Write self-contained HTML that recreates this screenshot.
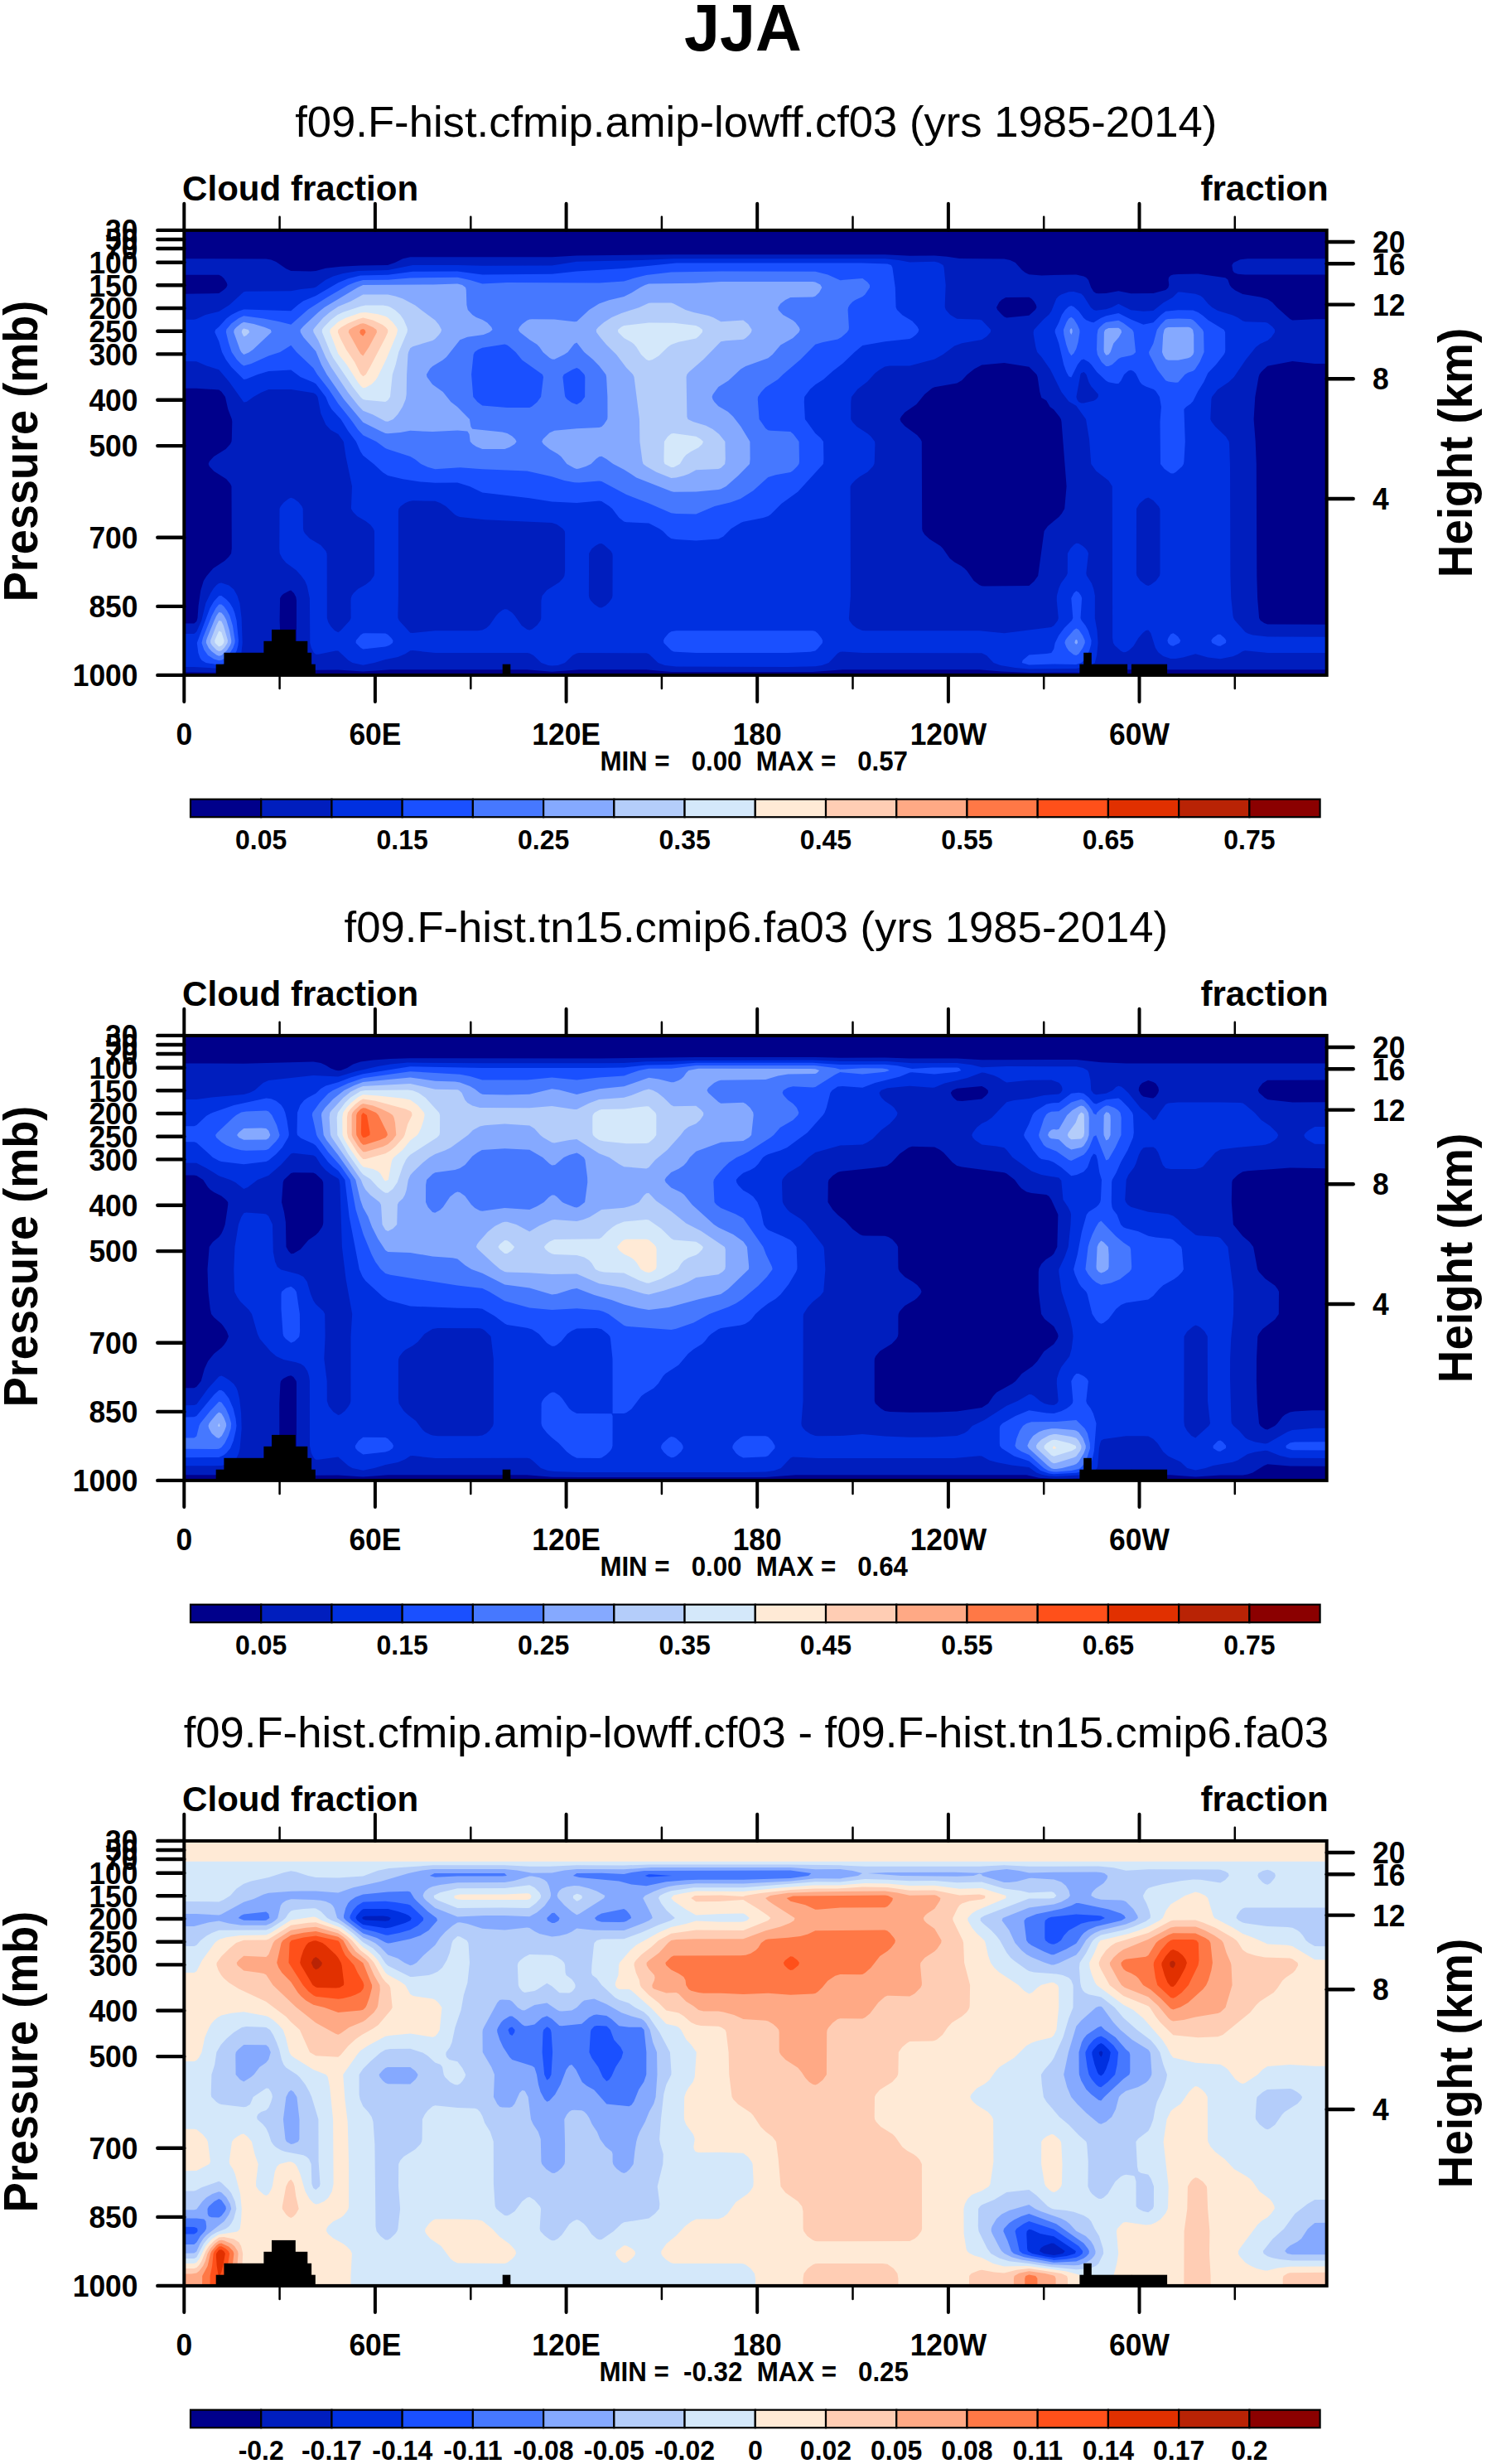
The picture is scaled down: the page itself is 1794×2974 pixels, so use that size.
<!DOCTYPE html>
<html lang="en"><head><meta charset="utf-8"><title>JJA Cloud fraction</title>
<style>html,body{margin:0;padding:0;background:#fff}svg{display:block}text{font-family:"Liberation Sans",Arial,Helvetica,sans-serif;fill:#000}</style></head><body>
<svg width="1794" height="2974" viewBox="0 0 1794 2974">
<rect width="1794" height="2974" fill="#fff"/>
<text transform="translate(896.8,61.0) scale(0.966,1)" font-size="80" font-weight="bold" text-anchor="middle" >JJA</text>
<g transform="translate(0,0.0)">
<text transform="translate(912.8,165.3) scale(1.016,1)" font-size="51.8" font-weight="normal" text-anchor="middle" >f09.F-hist.cfmip.amip-lowff.cf03 (yrs 1985-2014)</text>
<text transform="translate(220.1,242.0) scale(0.983,1)" font-size="42.8" font-weight="bold" text-anchor="start" >Cloud fraction</text>
<text transform="translate(1603.7,242.0) scale(0.983,1)" font-size="42.8" font-weight="bold" text-anchor="end" >fraction</text>
<rect x="222.3" y="277.9" width="1379.4" height="537.0" fill="#00008b"/>
<clipPath id="cp0"><rect x="222.3" y="277.9" width="1379.4" height="537.0"/></clipPath><g clip-path="url(#cp0)" shape-rendering="geometricPrecision"><path fill="#001ebe" fill-rule="evenodd" d="M813.3 307.3l255 0 30 1.4 30-0.2 15 1.3 15 2.3 54 0.3 7.2 1.5 6.3 3 8.1 9 3.8 3 4.6 2.4 15 1.1 42-1 9 2.2 3 1.5 2.7 2.8 3.2 9 3.1 5 3 2.1 3 0.3 9-0.2 15-2.9 15 3 27-0.1 15-4.1 3-2.7 1-3.4-0.7-6 0.4-3 2.3-2.5 3-1 6-0.5 24-0.3 33 4.6 3 2.2 2.3 6.5 2.2 3 4.5 3.5 9 4.7 21 3.5 9 2.3 5.8 4 5.5 6 15.7 14 3 1.5 27-1.1 24 0 0 53.7-24-0.1-27-2.9-30 5.7-7.7 7.2-2.1 3-1 3-4.2 24-1.7 27 2.1 27 1.1 27 0.5 135 0.8 27 2 24 1.7 3 4.4 3 4.1 1.6 81 0.2 0 54.6-279 0-15 2.2-15 1.2-57 0.3-36-1.4-27-2.3-165 0-36 2.7-138 0.1-33-0.2-30-2.6-81 0-33 2.4-30-2.4-165 0-33 2.1-30-2-27 0.4-30-1-54 0.5-15 2.3-15 1.2-57-0.7 0-58.4 24-0.2 3-2.5 1.2-4.1 1.1-15 2.6-18 3.6-12 3.5-5.3 8.1-9.7 13.7-9 5.2-5 2.8-4 0.7-6-0.3-75-1.4-3-4.8-5.6-15-9.5-5.4-5.9-1.3-3 1.2-3 5.4-6 14.4-9 5.4-6 1.5-3 0.3-3 0.5-21-0.4-3-4.6-12-3.4-15-4.6-6.2-3-2.3-27-1.7-27-0.1 0-113.6 54-1 6-4.2 2.9-2.9 1.3-3-0.9-3-3.3-4.9-3-2.8-3-1.4-54-0.2 0-19.3 111 0.1 6 1.1 6 2.4 12 8.4 6 2.8 24 0.3 6-0.5 12-3.1 18-2.1 24-1.3 32.7-0.5 8.8-3 9.5-4.6 9-2 171-0.1 30-1.6ZM1214.3 358.9l-5 2.8-3 3.1-3.3 6.1 1.2 3 5.1 5.6 3 2.7 3 1.3 27-2.8 7.5-6.8 1.7-3-0.7-3-2.5-4.1-3-3.2-3-1.8ZM1185.3 440.4l-9 4.9-8.5 6.6-6.5 7-6 3.7-27 4.6-3 1.3-9.1 7.4-9.8 12-14.1 9.9-4.4 5.1-1.4 3 1.2 3 4.6 5.4 15 10.9 4 4.7 1.5 3 0.4 105 0.5 3 2.6 4.3 6 5.6 13.1 8.1 2.9 3 8.4 12 5.6 4.6 8.1 4.4 3.9 3 3 3.1 8.4 11.9 6.6 5.1 3 1.3 3 0.2 54-0.6 6-5.1 4.9-6.9 7.4-54 4.4-6 13.3-10.9 3.4-4.1 3.5-6 2.4-27-6.1-78-0.6-3-1.8-3-6.8-8.4-4.7-3.6-4.3-7.5-6-3.5-2-7-2.7-18-1.1-3-9.2-9.1-30-4.7ZM349.4 712.9l-7.1 3.9-2.4 2.1-1.8 3-0.5 27 0.9 21 1.3 6 5.5 6.4 3 2.3 3 1 3.5-3.7 2.5-5.5 0.6-3.5 0.1-48-0.7-4.5-2.4-4.5-3.6-3.4ZM1497.3 313.3l9-1 105 0 0 19.3-108 0-9-0.8-4.4-1.9-1.6-2.3-1-6.7 2-3Z"/>
<path fill="#0030e0" fill-rule="evenodd" d="M774.3 313.9l39-1.7 255 0 16.7 1.7 13.3 2.5 30-0.6 5 1.1 5.3 3 1 3 2.1 21-1 24 0.1 3 1.1 3 5.3 6 8.1 4.8 27 1 3 0.8 10.9 11.4-0.4 3-4.5 5-6 4.1-24 4.3-9 3.2-14 10.4-10 5.7-30 7.8-24 0.2-6 1-6 3.3-6 4.6-9 9.9-12 9.4-7.3 9.1-0.7 6-0.1 21 2.1 3.5 5.3 5.5 12.7 8.3 4.3 3.7 4.5 6 0.3 3-0.6 21-0.4 3-1.6 3-6.5 6.8-9 5.4-6 4.6-3.9 4.2-1.8 3 0.3 132-2 27 0.5 3 3.9 5.3 4.8 3.7 6.8 3 3.4 0.3 138 0 30 3.1 57-7.4 3-2 2.4-3 2.2-3 0.9-3-2-21 0.1-6 2.4-9 2.6-6 6.6-9 1.3-3 0.1-24 3.5-6 3.9-4.2 3-2 3 0.3 4.9 2.9 3.3 3 2.3 3 1.2 3-2.7 24 0.8 3 5.8 9 2.4 7.1 1.6 7.9-0.1 27 2.7 15 1.1 15-1.5 15-2.3 9-4.1 3-3.4 1.2-15 3-57 0.4-16.6-1.6-18-3-8.1-3-8.3-8.6-6-3-144-0.3-24-1.4-3 0.1-3 1.7-10.8 11.5-8.1 3-8.1 1.4-33 0.7-135-0.4-13.7-1.7-8.1-3-11.2-10.6-3-1-81-0.2-3 0.3-4.9 2.5-9.4 9-8.3 3-7.4 0.7-4.6-0.7-8.2-3-9.5-9-4.7-2.5-3-0.3-111-0.1-27-2.9-3 0.2-6 4-9 3.6-15 3-13.5 4-13.5 2.9-12.8-2.9-5.2-3.2-12-11.2-3 0-21 4.2-3 0.1-2.3-1.9-3.1-6-1.6-6-0.4-54-3.2-15-2.6-6-4.8-6.3-6-6.5-12-8.9-4.4-5.3-3.2-6-0.4-6 0.2-48 1.4-3 3.4-4.2 6-4.8 3-1.2 3.6 1.2 5.4 4 4.1 5 1.3 3 0.3 24 0.5 3 1.7 3 5.7 6 13.4 8.2 6 6.8 1.2 3 0.2 3 0.1 75 1.5 5.1 3 4.9 4.7 5 4.3 2.4 3-2.2 11-12.2 1.3-3-0.1-21 0.2-3 1-3 2.1-3 5.5-5.2 9-5 6-4.8 4.2-6 0.6-3-0.1-51-1.3-3-3.4-4.4-5.8-4.6-10.3-6-4.9-5-2.4-4 1.1-27-7.5-36-2.7-18-6.5-8.9-9-5.1-6-6.5-6-13.4-3.8-20.1-2.2-2.9-3-1.7-27-4.2-27 0-9 3.6-9.3 5.2-8.3 6-3.4 0.7-17.5-24.7-12.5-14.7-15-4.8-12-5.1-27-0.5 0-50 24-0.1 3-0.7 10.8-5.1 16.2-3.8 12.7-8.2 17.3-15.7 3-0.5 54-0.4 12-2.4 15-1.5 3-0.9 12-8.8 9-4.2 12-3.5 18-3.1 36-0.9 30-6 54-0.1 30 0.9 84-0.2 30-4.8ZM494.1 604.9l-4.8 2.2-5.5 3.8-2.4 3-0.5 3 0 102-0.5 24 0.1 3 1.4 3 13.4 14.8 3 0.4 27-2.9 51 0 6-0.6 4.9-2.7 4.1-3.6 7.8-11.4 2.8-3 4.4-3.4 3-1.3 3 0.4 6 4 3.1 3.3 8.4 12 6.5 4.8 3 0.9 3-1.2 6-4.6 4.2-5.9 0.8-3 0.1-21 1.2-6 5.7-6.7 15-9.5 4.4-4.8 1.7-3 0.7-6 0-45-0.4-3-2.4-3-7-4.8-6-2.2-81-3.7-30-3.3-3-0.8-3-1.8-11.1-10.4-6.9-3.8-6-2.3-27-0.5ZM718.4 658.9l-4.1 3.7-3.2 5.3-0.2 51 0.7 3 1.7 3 4 4.4 6 3.9 3 0.3 4.8-2.6 4.2-3.8 3.5-5.2 0.7-3 0.1-48-0.4-3-1.8-3-8.1-7.1-3-1.7-3 0.1ZM1290.3 352.2l6-0.1 9 2.5 3 3 8.5 13.3 3.5 3.2 3 0.7 12-1.5 6.9-2.4 8.1-4.1 15 7.5 15 1.4 12-0.8 12-9.5 11.4-6.5 6.6-6.3 3-0.2 18 2.4 6 2.3 3 2.1 6 7.4 5 4.3 7 4.1 18 5.4 6 2.8 6 4.1 3 1 24 0.8 3 0.6 6 4.9 2.8 3.3-0.1 3-4.1 6-4.6 4.2-9 3.9-5.2 3.9-12 15-14.3 21-6.2 6-13.3 9.2-7.2 8.8-0.7 3-1.1 24 1.4 3 4.5 6 12.8 12 3.7 6 0.4 3 0.9 27 0.4 132 0.9 27 2.2 21 0.7 3 1.8 3 12.3 13.9 3 1.8 6 1.9 18 2.1 81 0.1 0 19.4-81-0.1-27-2.8-3 0.7-6 3.8-6 2.5-15 3.1-15-1.9-15-4.2-15 4.3-9 1.5-6 0.1-9-3.1-6-4.7-3.4-5.4-5.6-17.7-3-3.8-3 0.7-3.7 2.8-5.2 6-6.1 10-5.4 5-3.6 2-3 0.3-3-1.4-7.5-6.9-1.8-3-0.9-6-0.3-183-4.5-6.9-15-11.6-6-8.5-2.3-30-4-24-11.7-16.1-9-5.4-8.9-11.5-13.4-27-10.7-15.1-5.1-5.9-1.8-6-2.6-15-0.2-3 0.7-3 12-12.9 6-5.3 3-4.2 6-15 3-3.2 3-1.9ZM1305.3 450.3l-0.9 1.6-5 27 0.8 3 2 3 3.1 1.7 3-0.1 12-2.7 3-1.8 2.5-3.1 0.1-3-8.6-9.7-2.9-5.3-2.9-9-2.9-3ZM1382.4 601.9l-6.9 6-3.5 6-0.1 78 0.6 3 4.2 6 6.6 5.1 3 1 3-1.2 6.3-4.9 4.3-6 0.6-3 0-75-0.2-3-1.6-3-6.4-6.9-6-3.6ZM267.3 703.5l9 3.1 6 4.9 4.2 7.4 2.9 9 2.2 18 1.1 30-1.6 15-1.4 6-1.4 2.8-6 3.8-15 3.5-33-2-24 0 0-39.8 24-0.3 3-2.3 6-13.7 5.1-21 5.8-12 3.8-6 3.3-3.6 3-2.3Z"/>
<path fill="#1a50ff" fill-rule="evenodd" d="M816.3 317.4l225 0.1 30 0.9 4.6 1.5 1.5 3 3.4 24 0.8 24 1.4 3 6.3 6.4 12 7.1 6 6.5 2.1 4-1 3-2.6 3-4.5 3.6-3 1.5-30 3.3-27 4.7-9.6 7.9-14.4 13.8-12 9.2-11.2 10-9.8 6.3-6 5.2-7.1 9.5-0.4 6 1.1 21 12.4 17 6 5.4 3.7 4.6 0.4 21-0.5 6-30.6 33.5-20 14.5-13 13-3 2-6 2.2-24 4.7-3 1.2-11.5 6.9-9.5 9.5-6 3.1-27 2-24-1.4-6-1.2-4.3-3-5.8-6-4.4-3-12.5-6.3-27-1.4-3-0.8-6-4.7-8.1-10.8-3.6-3-9.3-5.8-3-0.5-27 2.4-30-1.6-27-4.1-57-6.9-15.4-7.5-14.6-4.4-27 0.2-18-1.2-21-3.2-18-4.3-6-3.7-11.2-10.4-12.8-10.1-3.1-4.9-5.3-12-9.6-12.7-8.8-14.3-11.1-12-3.5-6-3.7-9-11.9-15.6-3-1.9-15.6-6.5-11.4-8.4-27 1.6-13.2 3.8-13.8 5.5-3 0.5-15-15-6.6-9-4.7-9-3.7-13-5-11 0.8-3 4.2-3.4 9-10.1 6-4.5 9-4.4 6-1.9 3-0.1 54 1.8 9-7.9 6-4.1 15-6.3 27-15.8 12-4.9 15-3.7 33-0.8 30-4.1 54-0.3 30 4.1 84-0.7 30-3.3 57-3.5ZM1290.3 370l3-1.1 3 1.4 6 5.3 6 8.2 3 2.4 6 2.6 3 0.4 9-5.5 6-2.4 15-3.4 15 7.5 15 6.3 12-2.5 9.4-9.3 5.6-4.2 15-1.4 18 0.3 6.2 2.3 5.8 4.1 6 5.3 19.3 11.6 1.5 3 0.2 21-0.3 3-1.5 3-9.4 12-9.8 10.4-5 10.6-7 11.4-6 12-3 3.3-5.2 3.3-2.7 3 1.4 39-1.4 24-0.5 3-1.8 3-7.8 7-3 1.5-3-0.2-7.5-5.3-4.8-6-0.5-51 1.4-18-2-12-4.6-6.8-2.4-2.2-9.6-3.5-4.5-2.5-2.6-3-4.9-9.8-3-3-3-1.4-3 0.8-5.2 4.4-3.8 7.7-3 3.4-3 0.1-9-1.9-3-1.7-11.1-10.6-6.7-9-3-3-6.2-3.5-3 1.2-4.3 5.3-7.7 15.6-3-1.2-3-5.6-3-8.3-6-25.9-4.7-13.6 0.2-3 4.5-8.6 3.6-9.4 4.1-6ZM1299.3 713.3l3 1.6 2.8 4 1 3-1.6 24 1.3 3 4.7 6 3.3 6 3.8 12-0.3 4.8-2.1 7.2-2.7 6-3.8 6-3.3 3-6.1 2.1-27-0.4-30 1-8.5-2.7 0.8-3 7.7-6.3 21-1.6 6-1.1 3-4.7 1.4-7.3 4.5-9 6.7-9 9-9 1.4-3-2-24 3-5.9ZM264.3 719.3l3-0.2 6 4.4 4.2 4.4 3.6 6 2.3 6 2.2 9 2.4 24-0.6 6-1.5 6-4.5 9-2.9 3-4.5 3-6.7 2.3-3 0.4-15.7-2.7-5-3-2.1-3-2.1-6-1.6-12 15.7-42 4.8-8.1ZM810.3 762.2l6-1 165 0.1 3 0.7 3 2.4 4.3 5.5 1.5 3-0.2 3-5.6 6.9-3 2.7-6 1.2-27 1.3-111 0-24-1.2-3-0.3-3-1.4-8.9-9.2-0.4-3 1.4-3 4.9-5.6ZM435.3 766.6l3-2.1 3-0.3 24 0.3 3 1.6 4 3.8 2.2 3-0.5 3-4.2 3-4.5 1.7-27 2.8-3-1.7-5.7-5.8 0.2-3ZM1413.3 765.5l3-1.2 3 1.6 3 2.7 2.9 4.3-1.2 3-7.7 3.8-3-0.7-3-2.8-0.9-3.3 1-3ZM1470.3 765.8l3 0 4.9 4.1 2.2 3-0.5 3-6.6 3.9-3-0.2-6-3.1-1-0.6-1-3 2.1-3Z"/>
<path fill="#4678ff" fill-rule="evenodd" d="M810.3 328.6l60-1 114 0.2 15 3.7 15 6.7 27-2.1 6 4.3 2.7 3.5 0 3-5.7 8.6-3 2.6-8.6 3.8-3.4 2.3-3.5 3.7-1.7 3-0.5 3 1.3 21-0.3 3-2 3-6.8 6-4.5 2.6-17.7 3.4-9.3 2.9-18 18.2-21.1 17.9-6.1 6-14.8 9.7-5.2 5.3-4 6-0.3 3 1.8 24 7.7 11 3 2.3 3 0.5 24 1.3 3.5 2.9 6.8 9 0.4 24-0.5 3-2.2 3-5 5-3 2-18 3.3-9 2.9-18 16.2-15.3 9.6-11.7 4.3-19.6 4.7-22.4 9.5-24-0.3-6-0.8-27-11.9-27-10.3-30-16.1-3-0.4-24 2-6-0.3-12-2.2-15-4.8-30-6.8-54-2.2-27-2-30 1.9-9-2.5-8.1-3.8-6.9-5.4-6-3.6-27-8.6-3-1.4-11-8-16-7.6-6-6.6-9.1-12.8-14.9-18.6-11.3-17.4-14-18-4.7-7.6-20.3-19.4-6.7-8.2-13.2 8.2-13.8 4.7-21 9.5-9 2.5-3-2-5.4-5.7-6.2-9-3.9-12-2.9-12 0.4-3.1 6-7.2 9-6.6 6-2.7 24 3.1 18 3.5 15 3.8 21-18.5 22.4-14.3 25.8-15 8.8-3.5 9-2.4 30-0.3 27-2.2 57-0.7 15 3.1 15 4.5 30-1.4 111 0.4 30-1.8 15-4.7 12-2.8ZM582.3 419.7l-5.2 2.2-4.1 3-1.4 3-2.5 24 2.2 27 5 6 6 4.5 30 2.7 27-0.1 3-1.6 6-4.9 4.8-6.6 2.9-24-1.1-3-24.6-17.3-7.8-9.7-7.2-6.1-3-2.2-3-1.1ZM691.3 445.9l-10.6 6-1.3 3 2.4 21 0.6 3 2.3 3 5.6 4.1 6 2.3 5.3-3.4 4.5-6 0.2-24-0.8-3-6.2-6.3-3-1.7ZM1293.3 382.7l3 2.4 4.4 6.8 2.6 6 0.2 3-1.9 12-2.3 8.2-3 5.4-3 2.8-3-4.5-3-8.9-2.9-12-0.5-6 3.6-9 2.8-4.3ZM1407.3 385.8l3-0.8 12-0.5 15 0.5 3 1.2 3.2 2.7 8.4 9 1.2 3 0.5 24-5.2 12-5.8 9-2.3 1.8-6 2-3.7 2.2-8.3 9.6-3 0.3-6-0.7-3-0.5-3-1.4-10.2-13.3-9.5-18-0.6-3 5.3-10.1 4.5-16.9 4.5-6.2ZM1350.3 386.7l6 3.3 10.7 7.9 1.6 3 2.5 24-2.8 2.9-3 1.3-12 2.4-3 1.5-7.5 6.9-4.5 2.1-3 0-5.4-5.1-5-9-0.9-6 0.5-18 1-6 2.2-3 4.6-4.2 3-1.8ZM264.3 729.6l3 0 3 2.5 3.7 4.8 3.3 6 3.6 12 2.8 18-0.2 3-2.1 6-5.1 8.2-6 5.1-3 1.6-3 0.5-6-1.8-7.2-4.6-4.8-6.6-2.8-8.4 1.4-6 10.9-27 4.8-9ZM1296.3 760.6l3-2 3 1.5 4.7 6.8 2.7 6 0.1 3-2.6 6-4.9 7.3-3 1.9-3-0.8-6-4.9-3-4.4-1.9-5.1 0.7-3 2-3Z"/>
<path fill="#85a9ff" fill-rule="evenodd" d="M870.3 340.1l111 0 3 0.3 6 3 2 3.5-3.3 6-4.7 4.7-3 0.8-27 0.5-6.1 3-5.9 4.7-3 4.3 0.4 3 5.6 6.1 12 6.8 3 2.4 4.4 5.7 1.1 3-1.3 3-7.2 7.2-15 8.4-9.8 11.4-5.2 4.4-27 9.6-6 3.5-15 14-12 7.5-6.6 9-1.1 3 0.9 3 1.9 3 4.9 5.3 11.6 6.7 6.3 6 9.1 11.9 11.1 18.1 0.2 21-0.6 6-13.7 14.2-14.7 12.8-6.3 3.4-3 0.7-27 2.4-27 0.3-3-0.6-42-16.7-15-9.7-13-6.8-8.2-6-5.8-3.2-3 0.5-3.8 2.7-6 6-6.3 3-7.9 2.6-3 0.5-3-1-8.9-5.1-7.1-9-3.8-3-10.2-5.8-7.3-6.2-1.8-3 1.4-3 7.7-7.3 6-2.8 27-2.5 27-1.2 3-1.2 3-2.8 3.9-6.2 0.3-3-0.1-24-1.3-24-0.7-3-8.1-10.4-7.3-7.6-10.7-9-9-11.4-3 1.4-7.8 10-4.5 3-11.7 5.9-3-0.2-3-1.8-7.8-6.9-4.1-6-3.1-3.2-9-5.6-11.6-9.2-1.9-3 1.3-3 3.2-3.6 6-4.5 3-1.3 3-0.2 27 0.2 24 2.7 3-0.2 15-13.9 12-7.7 12-4.1 18-4.2 9-4.5 10.5-6.7 6-3 4.5-1.3 57-0.8ZM522.3 343.4l30-1 5.8 1.5 4 3 0.7 3 0.6 18 1.4 6 5.5 6.2 4.6 2.8 7.6 3 5.8 3.7 5.1 5.3 1.1 3-3.5 3-7.3 3-19.4 2.9-9 3.5-16.4 20.6-4.6 3.9-12 7.1-3 2.9-4.4 7.1 0.6 3 6.6 9 12.6 9 9.6 12 8 6.3 14.6 14.7 1.5 9 1.9 2.9 36 3.7 6 1.4 6 3.7 3.7 3.3 1.6 3-2.3 3-6 3.9-6 2.3-27 0-7.4-3.2-4.4-3-2.8-3-1.1-9-2.3-3.3-12-1-30 1.5-27-1.3-12 2.3-15 1.2-3-0.4-6-2.6-21-10.5-23.1-27.9-20.7-30-6.6-12-6.6-16-15-16.9-3.6-6.1-0.1-3 3.7-4.2 17.9-16.8 7.4-6 40.2-24 6.5-2.9ZM294.3 388.8l12 2.2 13.3 3.9 7.3 3 0.8 3-22.3 21-5.1 3.7-6 2.3-3-2.9-1.6-3.1-7.5-21 0.5-3 2.6-3 6-4.7ZM1410.3 394.9l24-0.1 3 0.8 2.8 2.3 1.1 6 0.1 21-1 3-3 3.1-3 1.3-12 2.4-12 0-3-1.2-3-4.8-1.3-3.8 1.2-21 1.4-6 1.7-2ZM1293.3 396.1l1.3 1.8 0 3-1.3 3.2-1.6-3.2 0-3ZM1338.3 395.9l12-0.2 3.1 2.2 0.7 3-3.3 6-6.5 7.6-3.7 10.4-2.3 3.1-3 0.8-2.4-3.9-0.3-3 0.3-21 1.3-3ZM264.3 739.1l3 0.3 3 3.5 3 5.7 3.7 12.3 2.3 12-0.2 3-1.3 3-3.8 6-6.5 6-3.2 0.8-3-1.2-6-4.5-3.4-4.1-3-6 0.1-3 1-3 8.6-21 2.7-5.6ZM1299.3 771.7l1.4 1.2 0.4 3-1.8 1.8-1.9-1.8 0.6-3Z"/>
<path fill="#b4cdfa" fill-rule="evenodd" d="M438.3 355.5l30 0.1 9 2 9 3 15 8 24 18 4.6 5.3 3.2 6-0.9 3-2.2 3-4.7 5.1-3 1.9-24 7.4-3 1.9-2.2 4.7-0.6 3-1.4 24-0.4 24-1 6-3.7 9-5.7 9.2-5.6 5.8-6.4 2.8-3-0.1-15-8.1-12-4.8-6-6.4-12-15.4-21-31.3-6-11-9-20.5-5.8-10.2-0.4-3 2.2-3 10-11.4 7.7-6.6 10.3-6.8 15-6.4ZM783.3 365.7l3-0.3 24 0.2 3 0.8 14.3 7.5 9.7 3.2 18 3.8 6 2.3 9 5 27-1.8 6 4.8 4.4 6.7-0.8 3-2.3 3-4.3 4-3 1.8-21 1.6-6 1-21 21.4-17.5 15.2-2.5 3-0.7 3 0.8 48 1.1 3 6.3 3 15.5 4.9 8.2 4.1 7.6 6 7.3 9 0.4 21-0.6 6-4.9 4.8-3 1.4-27 1.1-8.7 4.7-6.3 2.3-9 2.4-6 0.4-18-7.2-11.8-6.9-3.9-3-1-3-3.2-24-0.4-27-6.5-51-1.4-3-7.8-7.9-12.1-16.1-11.9-11.7-7.8-9.3-4.4-6-0.3-3 2.4-3 7-6 9.4-6 11.7-5 21-6.7ZM294.3 396.6l5.6 1.3 1.3 3-3.9 4.2-3 1.1-2.6-5.3 0.7-3ZM264.3 749.1l3 0.6 2.5 5.2 5.2 18-0.4 3-3.8 6-3.5 3.4-3 0.8-3-1.7-5.3-5.5-1.8-3-0.1-3 7.2-18.1Z"/>
<path fill="#d4e8fa" fill-rule="evenodd" d="M435.3 369.7l6-1.1 21 0 6 0.9 3 1.3 6 3.6 6 5.5 4.1 6 3.9 9 0.7 3-0.5 3-10.2 24-3.6 15-3.9 12-2.8 27-2.7 4.2-3 1.9-24-2.3-3-0.7-3-2.7-9.4-12.4-23.6-35-3.6-7-9.8-24-0.1-3 2-3 8.5-8.7 8.1-6.3 6.9-3.2ZM783.3 389.5l30 0.3 27 3.2 4 1.9 3.8 3-0.2 3-4.6 5.2-3 2.3-21 4.4-9 3.1-4.2 3-10.8 10.7-7.5 4.3-4.5 1.4-3-1.4-6.2-6-5.7-9-3.1-3.6-3-2.4-9-5-7-7-0.3-3 4.3-3.4 3-1.5ZM810.3 523.4l3-0.5 27 3.8 5.6 3.2 3.1 3-1.2 3-4.5 4.3-9.1 4.7-5.9 4.2-3 3.5-4.5 7.3-7.5 4-3 0.2-7.8-4.2-1-3 0-6 0.4-18 4.2-6ZM264.3 761.5l3 1.5 3.3 9.9-0.4 3-2.2 3-3.7 1.6-4.7-4.6-0.4-3Z"/>
<path fill="#ffead6" fill-rule="evenodd" d="M435.3 377.5l6-0.4 15 2.1 9 2.5 3 1.8 5.8 5.4 4.6 6 1.4 3-1.4 6-12.6 30-10.2 21-2.6 4.1-5 4.9-7 3.9-3 0.4-3-2.6-3-3.9-13.8-21.8-10.2-12.8-10-26.2 0.2-3 0.8-1.1 9-8.4 9-4.6Z"/>
<path fill="#ffcdb4" fill-rule="evenodd" d="M432.3 385.2l6-1.6 12 2.9 11.5 5.4 3.9 3 2.5 3 0 3-2.9 6.7-18 34.4-5.6 9.9-3.4 2.3-3-3-7.2-14.3-10.1-15-6.7-12.6-3.4-8.4 0.4-3 3.6-3 8.4-4.6Z"/>
<path fill="#ffa985" fill-rule="evenodd" d="M435.3 390.8l3-0.6 3 0.7 9 4 4.2 3 0.5 3-9.7 18-7 10.6-3-2.6-3-4.8-11.6-21.2 0.8-3 4.7-3Z"/>
<path fill="#ff7846" fill-rule="evenodd" d="M435.3 397.9l3-0.8 2 0.8 1 2.2 0 1.4-3 4.2-3-2.5-1.1-2.3Z"/><rect x="260.7" y="801.7" width="120.1" height="13.2" fill="#000"/><rect x="270.4" y="787.8" width="105.7" height="27.1" fill="#000"/><rect x="318.4" y="773.8" width="52.9" height="41.1" fill="#000"/><rect x="328.0" y="759.9" width="28.8" height="55.0" fill="#000"/><rect x="606.7" y="801.7" width="9.6" height="13.2" fill="#000"/><rect x="1303.4" y="801.7" width="57.7" height="13.2" fill="#000"/><rect x="1365.9" y="801.7" width="43.2" height="13.2" fill="#000"/><rect x="1308.2" y="787.8" width="9.6" height="27.1" fill="#000"/></g>
<rect x="222.3" y="277.9" width="1379.4" height="537.0" fill="none" stroke="#000" stroke-width="4"/>
<g stroke="#000" stroke-linecap="round" fill="none"><path d="M222.3 277.9v-32.2M222.3 814.9v32.2" stroke-width="4.0"/><path d="M337.6 277.9v-16.1M337.6 814.9v16.1" stroke-width="2.5"/><path d="M452.9 277.9v-32.2M452.9 814.9v32.2" stroke-width="4.0"/><path d="M568.3 277.9v-16.1M568.3 814.9v16.1" stroke-width="2.5"/><path d="M683.6 277.9v-32.2M683.6 814.9v32.2" stroke-width="4.0"/><path d="M798.9 277.9v-16.1M798.9 814.9v16.1" stroke-width="2.5"/><path d="M914.2 277.9v-32.2M914.2 814.9v32.2" stroke-width="4.0"/><path d="M1029.5 277.9v-16.1M1029.5 814.9v16.1" stroke-width="2.5"/><path d="M1144.9 277.9v-32.2M1144.9 814.9v32.2" stroke-width="4.0"/><path d="M1260.2 277.9v-16.1M1260.2 814.9v16.1" stroke-width="2.5"/><path d="M1375.5 277.9v-32.2M1375.5 814.9v32.2" stroke-width="4.0"/><path d="M1490.8 277.9v-16.1M1490.8 814.9v16.1" stroke-width="2.5"/><path d="M222.3 277.9h-32" stroke-width="4.4"/><path d="M222.3 289.0h-32" stroke-width="4.4"/><path d="M222.3 300.0h-32" stroke-width="4.4"/><path d="M222.3 316.7h-32" stroke-width="4.4"/><path d="M222.3 344.3h-32" stroke-width="4.4"/><path d="M222.3 372.0h-32" stroke-width="4.4"/><path d="M222.3 399.7h-32" stroke-width="4.4"/><path d="M222.3 427.4h-32" stroke-width="4.4"/><path d="M222.3 482.7h-32" stroke-width="4.4"/><path d="M222.3 538.1h-32" stroke-width="4.4"/><path d="M222.3 648.8h-32" stroke-width="4.4"/><path d="M222.3 731.9h-32" stroke-width="4.4"/><path d="M222.3 814.9h-32" stroke-width="4.4"/><path d="M1601.7 292.0h32" stroke-width="4.4"/><path d="M1601.7 318.3h32" stroke-width="4.4"/><path d="M1601.7 367.6h32" stroke-width="4.4"/><path d="M1601.7 457.2h32" stroke-width="4.4"/><path d="M1601.7 602.0h32" stroke-width="4.4"/></g>
<text transform="translate(166.5,291.1) scale(0.945,1)" font-size="37.5" font-weight="bold" text-anchor="end" >30</text>
<text transform="translate(166.5,302.2) scale(0.945,1)" font-size="37.5" font-weight="bold" text-anchor="end" >50</text>
<text transform="translate(166.5,313.2) scale(0.945,1)" font-size="37.5" font-weight="bold" text-anchor="end" >70</text>
<text transform="translate(166.5,329.9) scale(0.945,1)" font-size="37.5" font-weight="bold" text-anchor="end" >100</text>
<text transform="translate(166.5,357.5) scale(0.945,1)" font-size="37.5" font-weight="bold" text-anchor="end" >150</text>
<text transform="translate(166.5,385.2) scale(0.945,1)" font-size="37.5" font-weight="bold" text-anchor="end" >200</text>
<text transform="translate(166.5,412.9) scale(0.945,1)" font-size="37.5" font-weight="bold" text-anchor="end" >250</text>
<text transform="translate(166.5,440.6) scale(0.945,1)" font-size="37.5" font-weight="bold" text-anchor="end" >300</text>
<text transform="translate(166.5,495.9) scale(0.945,1)" font-size="37.5" font-weight="bold" text-anchor="end" >400</text>
<text transform="translate(166.5,551.3) scale(0.945,1)" font-size="37.5" font-weight="bold" text-anchor="end" >500</text>
<text transform="translate(166.5,662.0) scale(0.945,1)" font-size="37.5" font-weight="bold" text-anchor="end" >700</text>
<text transform="translate(166.5,745.1) scale(0.945,1)" font-size="37.5" font-weight="bold" text-anchor="end" >850</text>
<text transform="translate(166.5,828.1) scale(0.945,1)" font-size="37.5" font-weight="bold" text-anchor="end" >1000</text>
<text transform="translate(1657.0,305.2) scale(0.945,1)" font-size="37.5" font-weight="bold" text-anchor="start" >20</text>
<text transform="translate(1657.0,331.5) scale(0.945,1)" font-size="37.5" font-weight="bold" text-anchor="start" >16</text>
<text transform="translate(1657.0,380.8) scale(0.945,1)" font-size="37.5" font-weight="bold" text-anchor="start" >12</text>
<text transform="translate(1657.0,470.4) scale(0.945,1)" font-size="37.5" font-weight="bold" text-anchor="start" >8</text>
<text transform="translate(1657.0,615.2) scale(0.945,1)" font-size="37.5" font-weight="bold" text-anchor="start" >4</text>
<text transform="translate(222.3,898.8) scale(0.945,1)" font-size="37.5" font-weight="bold" text-anchor="middle" >0</text>
<text transform="translate(452.9,898.8) scale(0.945,1)" font-size="37.5" font-weight="bold" text-anchor="middle" >60E</text>
<text transform="translate(683.6,898.8) scale(0.945,1)" font-size="37.5" font-weight="bold" text-anchor="middle" >120E</text>
<text transform="translate(914.2,898.8) scale(0.945,1)" font-size="37.5" font-weight="bold" text-anchor="middle" >180</text>
<text transform="translate(1144.9,898.8) scale(0.945,1)" font-size="37.5" font-weight="bold" text-anchor="middle" >120W</text>
<text transform="translate(1375.5,898.8) scale(0.945,1)" font-size="37.5" font-weight="bold" text-anchor="middle" >60W</text>
<text transform="translate(45.3,544.5) rotate(-90) scale(0.94,1)" font-size="57.5" font-weight="bold" text-anchor="middle" >Pressure (mb)</text>
<text transform="translate(1777.0,546.5) rotate(-90) scale(0.953,1)" font-size="57.5" font-weight="bold" text-anchor="middle" >Height (km)</text>
<text transform="translate(910.2,930.0) scale(0.956,1)" font-size="32.7" font-weight="bold" text-anchor="middle" xml:space="preserve">MIN =   0.00  MAX =   0.57</text>
<rect x="230.00" y="964.7" width="85.22" height="21.5" fill="#00008b" stroke="#000" stroke-width="2.2"/>
<rect x="315.23" y="964.7" width="85.22" height="21.5" fill="#001ebe" stroke="#000" stroke-width="2.2"/>
<rect x="400.45" y="964.7" width="85.22" height="21.5" fill="#0030e0" stroke="#000" stroke-width="2.2"/>
<rect x="485.67" y="964.7" width="85.22" height="21.5" fill="#1a50ff" stroke="#000" stroke-width="2.2"/>
<rect x="570.90" y="964.7" width="85.22" height="21.5" fill="#4678ff" stroke="#000" stroke-width="2.2"/>
<rect x="656.12" y="964.7" width="85.22" height="21.5" fill="#85a9ff" stroke="#000" stroke-width="2.2"/>
<rect x="741.35" y="964.7" width="85.22" height="21.5" fill="#b4cdfa" stroke="#000" stroke-width="2.2"/>
<rect x="826.57" y="964.7" width="85.22" height="21.5" fill="#d4e8fa" stroke="#000" stroke-width="2.2"/>
<rect x="911.80" y="964.7" width="85.22" height="21.5" fill="#ffead6" stroke="#000" stroke-width="2.2"/>
<rect x="997.02" y="964.7" width="85.22" height="21.5" fill="#ffcdb4" stroke="#000" stroke-width="2.2"/>
<rect x="1082.25" y="964.7" width="85.22" height="21.5" fill="#ffa985" stroke="#000" stroke-width="2.2"/>
<rect x="1167.47" y="964.7" width="85.22" height="21.5" fill="#ff7846" stroke="#000" stroke-width="2.2"/>
<rect x="1252.70" y="964.7" width="85.22" height="21.5" fill="#ff501a" stroke="#000" stroke-width="2.2"/>
<rect x="1337.92" y="964.7" width="85.22" height="21.5" fill="#e13000" stroke="#000" stroke-width="2.2"/>
<rect x="1423.15" y="964.7" width="85.22" height="21.5" fill="#b92305" stroke="#000" stroke-width="2.2"/>
<rect x="1508.38" y="964.7" width="85.22" height="21.5" fill="#8b0000" stroke="#000" stroke-width="2.2"/>
<text transform="translate(315.2,1024.6) scale(0.97,1)" font-size="33" font-weight="bold" text-anchor="middle" >0.05</text>
<text transform="translate(485.7,1024.6) scale(0.97,1)" font-size="33" font-weight="bold" text-anchor="middle" >0.15</text>
<text transform="translate(656.1,1024.6) scale(0.97,1)" font-size="33" font-weight="bold" text-anchor="middle" >0.25</text>
<text transform="translate(826.6,1024.6) scale(0.97,1)" font-size="33" font-weight="bold" text-anchor="middle" >0.35</text>
<text transform="translate(997.0,1024.6) scale(0.97,1)" font-size="33" font-weight="bold" text-anchor="middle" >0.45</text>
<text transform="translate(1167.5,1024.6) scale(0.97,1)" font-size="33" font-weight="bold" text-anchor="middle" >0.55</text>
<text transform="translate(1337.9,1024.6) scale(0.97,1)" font-size="33" font-weight="bold" text-anchor="middle" >0.65</text>
<text transform="translate(1508.4,1024.6) scale(0.97,1)" font-size="33" font-weight="bold" text-anchor="middle" >0.75</text>
</g>
<g transform="translate(0,972.0)">
<text transform="translate(912.8,165.3) scale(1.016,1)" font-size="51.8" font-weight="normal" text-anchor="middle" >f09.F-hist.tn15.cmip6.fa03 (yrs 1985-2014)</text>
<text transform="translate(220.1,242.0) scale(0.983,1)" font-size="42.8" font-weight="bold" text-anchor="start" >Cloud fraction</text>
<text transform="translate(1603.7,242.0) scale(0.983,1)" font-size="42.8" font-weight="bold" text-anchor="end" >fraction</text>
<rect x="222.3" y="277.9" width="1379.4" height="537.0" fill="#00008b"/>
<clipPath id="cp1"><rect x="222.3" y="277.9" width="1379.4" height="537.0"/></clipPath><g clip-path="url(#cp1)" shape-rendering="geometricPrecision"><path fill="#001ebe" fill-rule="evenodd" d="M840.3 304l144 0 30 0.8 54-0.2 30 1 57-0.1 30 1.8 114-0.3 30 3.3 30 1.1 252 0 0 20.2-81 0.2-6 3.8-4.3 5.3-1.2 3 1.3 3 6.8 6 3.4 2.1 3 0.6 27 2.9 51-0.2 0 80-54-0.7-51 3.7-6 1-6 3.6-6.2 6-0.8 3-0.5 24 2.1 27 11.4 14.2 8.2 6.8 4.6 6 5 27 1.7 3 7.5 8.3 12 8.6 3.2 4.1 1.5 3-0.2 27-4.5 6.5-15 11.6-4.6 5.9-1.4 3-1.3 27-0.1 27 0.9 27 2.2 24 1.7 3 2.6 2.1 3 1.9 3 0.7 8.7-4.7 3.2-3 6.1-7.9 3-2.4 6-3.1 6-0.9 21-1.3 27-0.1 0 67.5-54-0.1-27-2.3-4.3 1.6-13.7 8.7-6 1.9-6 1-27-0.1-30 2-30-2.1-81 0-12 2.5-15 1.7-30 0.8-21-1.6-15-3.4-279 0-36 2.7-222 0.1-36-0.4-30-2.4-168 0-30 2.1-30-2-27 0.4-30-1.3-57 0.8-84 0 0-105 24-0.1 3-1.4 5.4-6.9 4.2-15 4.2-9 7.2-9 9-7.2 3-3.2 3.1-4.6 2.6-6-2.2-6-3.9-6-2.6-3.1-9-7.7-3.2-4.2-1.3-6-2.4-21-0.9-27 2.2-27 4.3-6 7.3-5.9 3-4.1 2.3-5 2.1-6 3.6-24-0.1-3-2.5-3-5.4-4.4-9-4.5-4.3-3.1-2.9-3-5.9-9-7.9-4.9-3-0.5-24-0.1 0-135 84 0.4 84-2.4 9 1.7 6 2.6 6 3.7 6 2.4 3 0.5 3.1-0.4 7.7-3 7.2-4.4 9-2.9 15-2.2 21-1.4 24-0.7 228 0.3ZM1379 334.9l-2.8 3-1.2 3-0.3 3 2.6 5.1 3 2.4 9 1.9 3 0.2 3-2.2 2.9-4.4 0.8-3-0.7-3.6-3-4.5-3-1.9-6-1.9ZM1155.3 341.7l-5.4 2.2-2.1 3 1.2 3 2.2 3 4.1 3.6 6 0.5 24-2.6 5.3-4.5 2.3-3-0.1-3-3.6-3-3.9-1.9ZM1097.1 412.9l-10.8 7.6-9.9 10.4-5.1 3.8-3 1.1-12 1.8-42 4.4-3 0.9-6 4-4.7 5-0.8 3-0.3 24 5.8 9 6 6.4 9 7.3 9 10 9 6.3 3 1.4 3 0.2 24 0.2 4.2 1.2 4.8 3.2 5.3 5.8 1.5 3 0.3 24 0.3 3 1.6 3 6 6.4 9.6 5.6 5.4 4 4.1 5 1.1 3-1.3 3-3.9 4.6-3 2.4-12 7.1-6.3 6.9-1.3 3-0.3 3 0 21-0.5 3-1.7 3-5.7 6-14.2 8.9-5.2 6.1-1.2 3-0.2 3 0.1 48 1.1 3 6.5 6 4.9 3 6 1.1 24 0.8 33-0.2 24-1.2 30-4.4 7.8-5.1 6-9 4.2-4.3 18.9-10.7 3.9-3 7.5-9 12.9-9 5.8-6 8-11.7 12-8.9 4.2-6.4 1.1-3-0.5-3-4.8-8.8-11.2-9.2-4-6-3.3-27 0-24 0.5-3.7 3-5.6 5.6-5.7 6.4-3.8 3-3 4-8.2 1.1-39-8.1-17.6-3-4.6-3-1.8-18-1.9-6-1.6-6-4-3-3.1-5.3-7.4-9.7-7.5-3-1.2-51-6.8-6-1.5-5.4-4-10.9-12-4.7-3.3-6-3-27-0.8ZM342.8 451.9l-1.1 3-1.7 24 3 12 1.9 12 0.6 30 2.8 5.2 3 3.1 3-0.3 8.4-5 9.6-11.1 9-6.3 3-3 4.5-6.6 1.2-3 0.3-3 0-45-0.2-3-1.3-3-7.5-7-3-1.5-24-0.2-3 0.8ZM347.7 688.9l-5.8 3-2.9 3-0.6 3-1.1 24 0 48 1 6 2.1 3 7.1 6 3.8 1.3 3.7-4.3 2.3-5.4 0.6-3.6 0.1-75-0.3-3-3.4-4.9-3-1.8Z"/>
<path fill="#0030e0" fill-rule="evenodd" d="M834.3 307.9l147-0.3 33 1.5 57-0.2 30 2.4 54-0.4 18 2.4 12 3 30-1.2 84 0.1 8.3 1.7 5.5 3 1.4 3 2 9 0.8 12 3 4.1 3 1.2 12-1.5 8-3.8 4-3.8 3-1.3 3 0.8 3 1.9 6 5.8 15 18.5 6.8 5.1 8.2 9.2 3-1.3 4.5-7.9 4.5-6 3-3.9 3-1.4 12-1.1 51 0 24 0.6 3 0.5 3 1.8 11.4 9.5 8.1 9 10.5 7 8.2 8 1.6 3-1.1 3-3 3-5.7 3.9-6 2-34.2 3.1-19.8 2.6-6 3.6-15 16.8-3 1.7-6 1.4-30 0-6-0.9-3.5-4.2-5.5-14.7-3-4.7-3-1.9-9 0.1-3 0.7-3 3.5-2.5 5-3.5 10.5-2.2 4.5-6.8 9.2-2.6 5.8-1.5 24 1 3 2.3 3 3.8 2.9 21 5.9 24 2.9 6 1.8 6 4.5 5.3 6 15.7 12.5 3 0.8 24 1.8 3 1.3 1.7 1.6 7.4 9 6.8 54-0.1 27-2.9 30-1.1 24-0.1 24 1.5 51 0.5 3 2.2 3 7 6 7.1 8.3 3 2.1 9 3.2 12 2 3-0.4 24-13.8 6-2.4 27-2.2 24 0 0 36.3-54-0.3-12-2.8-15-5.8-3-0.3-12 1.7-9 2.4-12 7.6-6 2.2-24 4.2-9 3-12 2.7-10-2.7-8-7.3-15-7.1-6-5.3-6.8-10.3-5.2-5.1-6-3.3-6-0.3-21 0-27 3.8-3 1.7-1.1 3.2-1.3 6-1.7 21-0.7 3-2.5 3-6.3 3-10.4 2.4-30 1.7-9-0.5-9-1.8-6-2.2-9-6.5-21-2.5-18-3.4-9-2.7-9-4.9-3-0.2-30 2.7-165 0-30-1.4-3 1.2-11.4 12.1-8.1 3-10.5 1.5-27 0.6-198 0-30-1-7.8-1.1-8.5-3-10.7-9.7-3-1.9-3-0.5-111 0.2-27-2.9-3 0.2-6 4-9 3.6-15 3-13.5 4-13.5 2.9-12.9-2.9-5.1-3-12-10.3-24 3.2-3 0-2.2-1.9-3.2-6-1.9-9-0.1-78-0.8-6-1.9-6-4-6-3.9-2.6-6-2.1-15-3.1-8.8-4.2-6.9-6-12.9-15-2.8-6-6.9-24-3.7-5.2-10.1-9.8-4.1-6-3-6-0.8-27 1.2-27 4.4-27 3.4-8.8 3-4.9 3-0.7 21 1.4 3 0.6 3 2.5 4.7 9.9 0.8 33 2.3 12 2.7 6 4.5 3.7 21 5.3 6 3.2 4.4 5.8 4.4 15 3.2 7.8 3 4.5 9 8.2 1.9 3.5 0.4 27-1.3 27 3.4 27 0.1 24 2 6 5.5 7 6 4 3-0.8 5-4.2 4-4.8 2.4-4.2 0.7-3 0.1-78 1.7-27-7.6-42-4.7-39-2.5-75-1-6-1.1-1.3-9-5.4-6-4.6-5.9-6.7-6.1-9.6-3-1.8-24-2.7-3 0.6-12.2 13.5-14.8 12.9-13.3 5.1-11.9 9-4.8 2-10.3-8-6.1-3-13.6-4.7-15-9.3-12-6.1-27-0.5 0-76.2 27-0.2 18-2.4 39-3.6 6.9-2 6.2-3 10.3-9 6.6-3 54-5.9 30 1.4 21-6.2 27-6.3 15-2.4 21-2 90 0.8 144 0 27-0.3 27-1.8 30-0.1ZM1167.9 328.9l-27.6 6.7-12 4.8-3 0.4-27-2.1-27 2.6-7.6 2.6-2.2 3 0.9 3 1.9 3 4 4.2 7.6 4.8 3.5 3 4.1 6-0.6 3-1.9 3-6.7 7.3-10.4 7.7-10.6 10.8-6.5 4.2-5.5 2.6-27 1-30 8.4-8.3 6-9.7 9.9-15 9-4.9 5.1-1.9 3-0.5 3 0.6 21 0.3 3 1.3 3 4.4 6 3.1 3 12.6 8 6 5.7 20.1 25.3 2 3 0.5 3 1.5 24-2.2 27-3.9 5-9 7.3-6 6.6-5.3 8.1-0.3 3-0.2 102-2.1 27 0.5 3 1.9 3 2.8 3 5.7 3.9 6 2.2 3 0.2 27-0.1 27-2.1 27 2.4 30 1.3 30-0.1 27-1.7 9-3.2 4-2.8 5.6-6 14.4-7 27-17.2 13.2-5.8 13.8-8 3 0.4 3.2 1.6 7.1 6 5.2 3 5.5 1.6 6 0.4 3.7-2 1.7-3-1.9-21 0.2-6 2.3-7.3 3-6.5 9.9-13.2 2.5-9 1.9-15-1-9-2.4-12-10.6-33-3.3-24 0.1-3 7-15 4.3-12 2.8-27 0.5-12-0.6-3-2.9-6-6-9-2.2-22.8-3-3.6-21-3.6-12-4.5-22.8-16.5-7.2-9-3-2.6-9-1.9-18-2-8.2-5.5-2.7-3-1.1-3 1.2-3 4.8-6.2 6-4.8 6-2.7 6-4.2 18-18.7 9-2.3 18-1.9 18-4.2 18-1.4 2.3-1.6 1.9-3-0.1-3-1.2-3-2.9-3.2-9-3.1-27 0.1-27 2.7-3-1.3-6-4.2-6.4-3-11.6-3.2-3-0.3ZM1440.4 628.9l-7.1 6-3.8 6-0.2 102 0.6 6 3.2 6 5.4 6 4.8 2.5 16-14.5 1.7-3-3-27-0.2-78-3.5-6-5-4.7-3-1.8-3-0.8ZM522.2 631.9l-9.7 6-8.2 9.8-6 4.5-9 5.1-3 2.6-3.9 5-1.2 3-0.3 3 0 45 0.7 6 5.9 9 4.8 4.6 9.8 7.4 8.2 10.9 3 2.6 6 3.2 3 1 6 0.6 48 0 6-0.6 4.9-2.7 4.1-3.6 3.8-5.4 0.7-3 0-78-3.2-27-7.3-7-3-2-3-0.7-51-0.2ZM1587.3 388.1l24-0.2 0 21.2-24-0.3-9-5.1-3-2.8-1-3 2.2-3 3.7-3ZM267.3 688.6l3 1.1 6 3.8 6 5 3 4.4 1.6 4 2.2 9 2 18 0.6 18-2.1 24-1.4 6-2.7 6-3.2 3.7-3.6 2.3-11.4 3.2-57 0.3 0-73.1 24-0.2 3-1.1 13.8-19.1 13.2-14.3Z"/>
<path fill="#1a50ff" fill-rule="evenodd" d="M840.3 310.8l141-0.1 33 2.4 54-0.3 15 1.5 18 3.6 24-1.4 30 0.1 2.5 0.3 2.6 3-5.1 1.8-27 2.8-27-2.3-3 0.3-12 5-29.9 7.4-15.1 5.9-24-1.9-6 0.6-6.7 4.4-2.2 3-4.6 18-2.3 6-2 3-18.7 21-24.5 18-8 3.7-15 4.6-3 1.5-3.2 2.2-5.8 8-4 4-5 3.1-9 3.7-6.1 5.2-2.4 3 0.4 3 2.1 3.5 6 6.4 6 3.1 6 4.4 5.1 6.6 3.9 9.8 3.7 17.2 2.3 3.6 3 3 18 7.7 9 4.6 3 2.7 4.3 5.4 0.9 24-0.2 3-1.2 3-8.9 15-9.9 12.7-6 5.2-9 5.4-8.7 6.7-6.6 6-4.6 6-3.3 3-4.7 3-5.1 1.7-24 3.5-3 1.1-8.6 5.7-3.3 3-4.5 6-3.1 3-10.5 6.5-6.6 5.5-11.4 13.7-16 10.3-2.8 3-5.8 9-5.4 5.6-11 6.4-4 3.1-12 15.8-6 4.3-3 1-13.7-0.2-0.1-66-2.5-24-0.7-3-2.6-3-7.4-5.7-6-1.1-24 0.3-6 2.8-5.4 3.7-7.4 9-5.2 4.4-3 1.5-3 0-6-3.7-9.7-11.2-8.3-5.4-6-1.8-24-3.7-3-1.5-12-9.1-15-8.6-6-0.8-24-0.2-57-2.2-27-7.4-6-4-21-19.3-3.6-5-3.9-9-12.1-63-5.3-45-8.1-10.8-6-4.5-6-5.8-15-20-3-2.3-15-6.7-4.3-3.9-0.5-3 0.5-24 3.4-9 4.8-6 4.2-3 9.9-5.1 6-5.9 6-3.5 15-4.1 15-5.8 15-4.3 57-8.9 87 1.8 141 0 30-0.7 27-3 30-0.3ZM1302.3 346.8l6 0.9 6 4.9 6 7 3 0.8 12-5.2 15-1.8 3.4 2.5 8.6 8.9 4.7 6.1 1 3 0.8 21-0.9 6-6.4 15-8.2 14.5-6 13.7-4.6 7.8-0.6 3-0.3 24 0.7 6 1.3 3 4.7 6 4.6 12 3.2 3.3 3 1.4 15 3.6 12 5.5 9 1.7 18 1.8 3 1.2 9.8 8.5 0.8 3 2 24-1.6 3-5 5.4-5 3.6-13 7.3-5.1 4.7-6.9 8.1-6 4.4-27 4.2-6 2.4-6 4.9-9 12.2-6 4.7-3 1-3-1.5-3-3.1-4.7-7.3-5.9-24-1.5-3-5.9-5.9-3-4.4-4.6-10.7-1.6-6 4.7-18 5.1-27 5.9-21 2.5-3.1 9-5.8 3.1-3.1 1.8-3 0.7-3 1.1-24-2.7-9-2.3-15-1.7-5.8-3-1.5-3 4.3-4.4 12-4.6 5.4-8.4 3.6-6.6 1.3-12-10.2-9-6-6-2.6-9-1.3-3-2.2-7.4-9-4.6-7.9-5.2-7.1-1-3 0.9-3 5.3-10.3 4.1-10.7 2-3 3.5-3 11.4-7.1 6-1.4 9-0.5 15-11.1ZM321.3 353.6l6 0.6 6 2.5 6 4.8 3 4.5 2 4.9 2.1 9 2.3 15 0.1 3-0.9 3-7.2 12-7.4 8.1-9 7.4-3 1.5-27 3.4-27-3.3-3-0.9-7.4-4.2-19.6-17.6-3-1-24-0.1 0-18.8 24-0.1 3-1.2 12-11.3 7.1-3.9 25.9-9ZM351.3 580.8l4.3 3.1 2.1 3 0.6 3 3.6 24 0.2 21-0.8 6-1 1.5-4.7 4.5-4.3 1.9-6.3-4.9-2.5-3-0.9-3-2.1-30 0-18 0.6-3 5.2-4.1ZM1302.3 685.9l6.2 3 3.6 3 1.8 3-2.6 24 0.9 3 4.5 6 3.1 6 3.7 12-2.6 33-2.6 12-4 9-4.5 3-10.5 2.8-27 1.6-6-0.9-10-3.5-14-11.5-18-5.8-15-9.7-2.2-3-0.3-3 0-18 0.6-3 2.8-3 15.8-9 16.3-6.6 21 3.2 9 0.5 9-2.8 6.4-3.3 4.1-3 2.8-3 0.8-3-2.1-24 3.2-6 2.8-2.8ZM264.3 705.9l3 0 3 2.2 6 7.7 5.3 12.1 2.9 12 1 9-0.9 6-2.8 12-3.7 9-4.8 5.9-3 2.5-6 2.8-54 0.1 0-48.7 24-0.2 3-1.2 21-25.6ZM666.3 708.5l3 0 6 3.8 3.5 3.6 8.3 12 3.5 3 5.7 3.1 42 0.3 1.3 2.6-0.1 36-0.8 3-1.8 3-4.6 4.7-6 3.8-3 0.6-27-0.3-5.6-2.8-6.4-4.6-9.6-10.4-8.4-6.6-6-5.8-4.4-5.6-1.7-3-0.7-3 0.1-24 1.1-3 2.6-3.7 6-5.2ZM438.3 762.7l27 0.2 3 1.5 5.2 5.5 1.5 3-0.9 3-4.3 3-4.5 1.7-27 2.8-6.5-4.5-2.6-3-0.4-3 4.1-6ZM807.3 763.5l3-1.4 3 0.3 2.9 1.5 6.1 5.5 2.2 3.5 0.2 3-2.4 4-5.4 5-3.6 2-3 0.3-4.3-2.3-4.7-4.1-3.2-4.9 0.2-3 1.8-3ZM894.3 763l3-1.4 3-0.4 24 0.1 3 1 4.7 4.6 3.6 6-0.2 3-8 9-3.1 1.4-27 1.3-5.1-2.7-3.6-3-4.3-6 0.2-3 1.8-3 2.8-3ZM1473.3 766.6l3 2 3.9 4.3-0.3 3-6.6 3.9-3-0.3-5.6-3.6-0.1-3 5.7-5.6ZM1557.3 769.6l6-1 48-0.5 0 10.3-51-0.1-7.4-2.4-0.5-3Z"/>
<path fill="#4678ff" fill-rule="evenodd" d="M840.3 313.9l143 0 24.7 3 6.3 1.9 27-1.6 24 0.2 6 1.1 2.5 1.4-5.5 1.8-27 2.9-27-2.5-6 2.8-24 15.2-3 0.3-24-1.2-6 1.5-5.5 3.2-1.2 3 1.4 3 5.3 5.8 6 4.2 4.6 5 2.5 6-1.2 3-5.9 6-15.5 9-7.8 9-3.8 3-26.9 17.4-6 3.3-8 3.3-9 6-6.3 6-9.7 11.1-2.5 3.9-0.5 3 1.2 24 2.4 3 5.4 4.1 18 7.5 9 4.9 24.1 34.5 3.4 9 7.2 15 0.6 3-6.6 9-10.7 11-19 16-8 5.4-9 4.3-22.9 8.3-19.1 10.7-21 7.1-6 1.3-54-4.2-3-1.1-18.6-13.8-6.5-3-4.9-1.3-27-2.4-30 1.9-27-2.5-30-8.3-18.7-11.4-8.3-4-30-3.3-81-12.8-6-1.9-6-5.5-6.1-8.5-4.6-9-9.9-24-9.2-30-6.7-36-11.5-16.3-15-16.8-12.6-17.9-1.5-3-5.4-24 0.5-3 8.6-12 10.4-11.1 5.7-3.9 18.3-8.4 18-6.3 57-8 60 3.6 12 2.1 15 4.5 3 0.2 51 0 30-3.1 30 2.9 27-2.9 30-2.1 18.4-6.5 11.6-2.1 27 0ZM1305.3 354.8l3.4 1.1 5.6 6 4.1 6 1.9 4.2 3 1.5 1-2.7 3-3 5-3.9 3-1.4 3 0 7 2.3 4.6 3 2.6 3 1.2 6-0.2 21-7 15-8.2 14.4-3 1.2-12-30.2-3 1.4-5.4 13.2-3.6 5.7-3 3.2-15 7.3-3-1.2-15-10.4-12-4.8-3.3-2.8-5.2-9-0.7-3 0.7-3 5.5-16.6 3-5.3 2.7-2.1 3.3-1.1 9-0.6 15-10.8ZM291.3 370.6l6-1.2 24-0.9 3 1.1 4 4.3 5.8 12 3.5 12-1 3-3.3 4.7-9 9.1-3 1.3-3 0.2-21 0.5-6-0.5-9-2.3-9-3.6-6-3.7-6.2-5.7-1-3 2.3-3 19-18 3.7-3ZM1329.3 501.6l18 18.6 9 7.5 7.8 5.2 1 3 1.1 21-0.4 3-2.3 3-11.4 9-10.8 4.5-12 2.4-6-3.1-4.5-3.8-5.1-6-3.3-6 3.2-27 1.7-6 3.4-9 4.4-9 3.2-5.2ZM264.3 719.7l3 0.7 5.3 7.5 3.7 8.3 2.9 9.7-0.5 6-3 9-4.4 9-4 5.1-3 1.7-3 0.3-51-0.2 0-13.2 24-0.2 3-2 3.1-12.5 1.4-3 12-15ZM1299.3 742l10.2 9.9 3.4 6 2.9 12 0.2 6-3.8 12-5.1 9-2.9 3-1.9 1-9 2-18 1.5-6-0.3-3.8-1.2-5.3-3-17.9-15.9-9-4-6-3.8-1.9-3.3 1.9-8.7 3.7-9.3 4-6 4.5-3 5.8-1.6 30-0.4Z"/>
<path fill="#85a9ff" fill-rule="evenodd" d="M843.3 317.7l135 0.3 6 0.3 4.8 1.6-2.8 3-2 1.1-33 0.6-12 2-15 4.4-54 0.7-3 0.7-5.1 2.5-7.1 6-1.6 3 1.6 3 12.2 11.1 3 1.7 27-0.9 3 1.4 5.3 4.7 3.7 5.8 0.4 3.2-2.6 24-3 3-6.8 4.1-27 1.8-30 10.9-7.5 7.2-4 6-3.5 3.8-6 4-9 4.2-6 6-1.8 3 1.2 3 6.6 6.6 11.5 5.4 4.1 3 9.6 12 26.5 24 5.3 3.5 18 8.7 12 8.4 4.6 6.4 2.3 24-0.3 3-25 24-8.6 6.2-26 5.8-37 10.2-24 2.9-12-2.1-18-4.3-15-5.5-21-6.2-21-8-6 1.2-18 5.7-6 0.7-27-8-30-3.9-27-13.8-13.1-4.9-7.9-5-9-7.5-6-1.1-24-1.9-27-4.3-27-1-3-2-9-13.9-7.2-14.3-4.8-12.7-6-10.7-3.3-9.6-5.7-24-21-29.6-14.2-18.4-3.4-6-2.7-24 0.5-3 4-6 9.8-10.4 13.2-10.6 12.3-6 10.5-3.8 57-5.6 30 4.3 24 0.8 6 0.8 12 4.7 6 3.4 6 4.7 3 1.5 3 0.3 27 0.4 27-0.6 27-6.5 9 1.2 21 5.5 27-6.8 30-2.9 30-10.6 12 1.8 15 3.8 3-0.1 6-2.1 3-1.9 3-2.7 3.1-4.6 3-3ZM581.9 415.9l-5.4 3-6.2 4.7-8.9 10.3-6.1 4.2-6 1.9-24 3.3-3 1.6-7.2 7-1 6-0.1 21 2.7 6 5.4 6 3.2 0.8 6-3.3 3.5-3.5 8.5-12.4 6-4.8 3-1.2 3 0.7 6 4.3 7.7 10.4 4.3 4.1 6 3.3 3 0.5 27-3.8 30 2.1 9-4.2 8.4-5 5.9-6 3.7-2.5 3 0.1 3 1.9 6.6 6.5 2.4 1.3 12 4.7 3 0.5 3-1.2 6.8-5.3 3.2-24-0.2-6-2.7-21-1.6-3-5.5-4-3-1.4-9 2.6-6.6 2.8-10.6 9-3.8 0.5-3-1.8-8.1-7.7-15.9-9.1-30-1.6ZM1302.3 363.5l3-0.9 3 0.7 3 3.3 2.7 4.3 0.8 6-0.2 21-2 6-4.3 7.1-3 2.1-12 2.5-6-3.6-9-8.7-9-1.1-2.4-1.3-1.9-3 1.3-3.3 3-2.9 3-0.8 3 0.7 3-0.5 9.9-17.2 6.4-6ZM1335.3 370.3l3.2 0.6 2 3 0.3 6-0.2 18-2.3 5.2-3 1.5-2.7-6.7-0.2-6 0.3-18ZM294.3 389.9l21-0.4 6 0.4 3 2.9 2 5.1-2 3.8-3 1.7-27 0.3-5.9-2.8-2.3-3 2.1-3ZM1329.3 525.5l3 1.8 5.6 5.6 0.7 9 0 15-0.8 3-4.2 3-4.3 1.6-3-1.6-2.4-3-0.4-3 1.1-24 1.7-4ZM264.3 732.5l3 1.4 3 5.2 2.7 6.8 0.2 3-2.2 6-3.2 6-3.5 3.1-3-0.9-5.7-5.2-3.3-5.8-0.8-3.2 1-3 2.2-3 6.6-7.9ZM1260.3 754l9-1.8 6 0 21 1.9 3 0.7 3 2 5.2 7.1 3.3 9-0.1 3-2.2 6-6.2 10.3-3 2.8-3 1.2-14.1 3.7-6.9 1-3 0.1-3-0.7-4.4-3.4-23-21-1.6-3 2.6-6 4.4-6 7-4.7Z"/>
<path fill="#b4cdfa" fill-rule="evenodd" d="M495.3 336l30 6.7 27 0.6 1.8 0.6 3.4 3 3.8 8.5 3 3.5 6 3.6 9 2.4 60 0.4 27-2.4 27 4.2 3 0 15-7.5 12-4.5 30-2.4 9-2.6 15.1-6.2 5.9-1.5 5 1.5 5.7 3 7.4 6 8.9 8.9 3 1.4 27-0.4 6 4.7 2.9 3.4 0 3-4.1 6-4.8 4.3-9 3.9-5.1 3.8-4.5 6-16.2 18-14.5 12-7.7 9.2-3 1.3-27-2.2-6-3.3-11.7-8-12.3-4.6-27-17.3-9 1-18 3.4-3-0.5-10.3-6-3.8-3-6.9-7.6-6-3.7-30-2.2-24 1.8-6 1.2-8.3 4.5-6 6-20.6 15-7.1 3.7-12 4.4-6.9 3.9-8.1 6.6-12 11.4-3 3.7-2.4 5.3-2.1 12-1.9 6-2.6 4.5-4.9 4.5-1.5 3-0.7 24-4.9 5-6 3.1-3-1.4-3.8-6.7-1.3-21-0.3-3-1.7-3-10.9-8.3-6-6.7-3-5.3-2.5-6.7-35.3-51-1.4-3-0.4-3-1.1-18 0.7-6 2.2-3 13.9-15 8.9-7.1 9-4.6 6-2.1ZM1305.3 370.6l3 1.6 0.5 1.7 0.3 21-0.8 4.6-3 3-12 0.7-3.1-2.3-1.4-3 1.1-3 8.8-12 3.3-9ZM780.3 468.3l3-0.3 9 9.6 18 12.3 18 14.5 18 9.3 28.6 19.2 0.9 3 0 21-0.6 3-2.8 3-5.1 3.4-27 3.7-9 5-9 3.9-21 6.8-18 4.9-6-1.1-24-7.2-30-5-27-11.8-30 0.6-27-1.9-27-0.7-3-0.6-5.5-3-6.5-5.3-20.1-18.7-2.3-3 1-3 2.2-3 10.6-12 8.6-7 9-4.3 3-0.9 3 0.1 11.1 3.1 15.9 8.7 12-7.3 15-6.8 3-0.5 27 2 8-2.1 7.6-3 14.4-8.9 27-2.3 6-1.5 6.4-2.3 5.7-3 5.9-7.8ZM264.3 745.5l1.3 3.4-1.3 1.3-1.2-1.3ZM1266.3 760.4l6-1.5 3 0.2 18 3 6 1.7 3 3.1 3.1 6 0 3-1.2 3-4.9 6.8-3 1.5-21 6.6-3 0.5-3-1.5-17.9-16.9-0.5-3 1.8-3 4.6-4.4Z"/>
<path fill="#d4e8fa" fill-rule="evenodd" d="M441.3 343.9l51-0.5 6 0.8 6.9 2.7 8.5 6 16.4 18 1 3-0.1 21-0.6 3-2.9 3-32.2 20.8-3.2 3.2-2.1 3-3.7 7.8-6.6 19.2-5.4 8-6 4.8-3 0.1-3-1.7-6.1-5.2-8.9-9.7-9-5.8-3-3.4-15-21.2-13-22.9-0.6-21 1.1-6 8.8-12 6.7-6.3 12-7.5ZM780.3 363.2l3 0.4 8 7.3 1.1 3-0.1 24-3 4.2-6 5.1-3 0.7-24 0.4-27-2.7-6-1.7-4.5-3-2.9-3-0.6-3 0-18 0.3-3 2.1-3 5.5-3 3.1-0.9 27-0.6ZM753.3 502.5l27-2.4 3 0.3 15 10.6 12 11.7 3 1.8 27 2.3 5.2 3.1 3.4 3-1 3-4.6 4.9-3 2-9 3.1-6 3.8-3 3.5-4 6.7-4.4 3-15.6 8.5-15 5.4-3-0.4-9-3.2-18-8.8-24-1-6-1.1-4.5-2.4-4.5-7.4-3-3.3-6-3.7-9-2.6-27-0.8-3-0.8-4.1-2.4-3.6-3-1.7-3 2.4-3 4-3.1 6-2.9 54-0.7 3-1.6 6.3-6.7 7.1-6 4.8-3ZM609.3 525l3 0.3 3 1.9 5.8 5.7-2.8 4-6 4-3 0-5.9-5-2-3 1.9-3ZM1269.3 766.4l3-0.7 3 0.4 16.2 3.8 7.2 3 0.6 3-5.2 3-21.8 6.8-3-1.3-8.7-8.5 0.1-3 2.9-3Z"/>
<path fill="#ffead6" fill-rule="evenodd" d="M438.3 349.3l18 1.1 30 3.4 9 1.7 9 6.6 7.7 8.8 0.6 3-1.2 6-2.9 9-2.7 6-2 3-8.5 6.7-9.3 11.3-10.6 9-2 3-0.8 3-3.8 21-3.5 1.6-1.7-1.6-4.3-7.5-3-2.7-6-2.8-12-2.7-3-3.2-13.8-20.1-5.3-9-2.7-6-0.2-21 0.9-6 4.1-6 5.6-6 8.4-6.6ZM756.3 523.8l24 0 3 0.8 6.3 5.3 2.4 3 0.6 3 0 21-1 3-4.9 3-3.4 1.2-4.5-1.2-5.2-3-5.3-8.4-3.4-3.6-4.5-3-7.1-3.2-6-4.8-2.4-4 5.4-6.1 3-2.2ZM1272.3 773.1l3.2 2.8-3.2 0.9-1.6-0.9Z"/>
<path fill="#ffcdb4" fill-rule="evenodd" d="M438.3 354.6l15 2.2 36 9.6 6 2.7 1.8 1.8 0.4 3-5.2 10.6-3.8 13.4-1.6 3-9.6 10.9-6 5-6 3.5-24 6.8-3-0.1-3-2.9-3.8-5.2-11.3-18-1.3-6 0-18 1-6 3.4-4.5 6-5.9 6-4.6Z"/>
<path fill="#ffa985" fill-rule="evenodd" d="M435.3 361.4l3-1.5 12 2.7 9 3.3 10.5 5 4.3 3 1.5 3 1.4 6 1.3 15-4 5.7-6 5.4-6 2.9-21 6.3-3 0.1-6-7.1-6.4-10.3-1.2-3-0.1-24 1-3 2.4-3Z"/>
<path fill="#ff7846" fill-rule="evenodd" d="M435.3 366.8l3-1.6 3 0.4 12.7 5.3 2.9 3 10.4 21 0.6 3-2.3 3-7 3-17.3 5.7-3 0.1-3-2.9-5-8.9-0.3-6 0.2-18 1.1-3Z"/>
<path fill="#ff501a" fill-rule="evenodd" d="M438.3 370.9l4.6 3 3.7 21-0.2 3-5.1 2.8-3 0.3-2-3.1-0.4-3 0.4-21Z"/><rect x="260.7" y="801.7" width="120.1" height="13.2" fill="#000"/><rect x="270.4" y="787.8" width="105.7" height="27.1" fill="#000"/><rect x="318.4" y="773.8" width="52.9" height="41.1" fill="#000"/><rect x="328.0" y="759.9" width="28.8" height="55.0" fill="#000"/><rect x="606.7" y="801.7" width="9.6" height="13.2" fill="#000"/><rect x="1303.4" y="801.7" width="62.8" height="13.2" fill="#000"/><rect x="1365.9" y="801.7" width="43.2" height="13.2" fill="#000"/><rect x="1308.2" y="787.8" width="9.6" height="27.1" fill="#000"/></g>
<rect x="222.3" y="277.9" width="1379.4" height="537.0" fill="none" stroke="#000" stroke-width="4"/>
<g stroke="#000" stroke-linecap="round" fill="none"><path d="M222.3 277.9v-32.2M222.3 814.9v32.2" stroke-width="4.0"/><path d="M337.6 277.9v-16.1M337.6 814.9v16.1" stroke-width="2.5"/><path d="M452.9 277.9v-32.2M452.9 814.9v32.2" stroke-width="4.0"/><path d="M568.3 277.9v-16.1M568.3 814.9v16.1" stroke-width="2.5"/><path d="M683.6 277.9v-32.2M683.6 814.9v32.2" stroke-width="4.0"/><path d="M798.9 277.9v-16.1M798.9 814.9v16.1" stroke-width="2.5"/><path d="M914.2 277.9v-32.2M914.2 814.9v32.2" stroke-width="4.0"/><path d="M1029.5 277.9v-16.1M1029.5 814.9v16.1" stroke-width="2.5"/><path d="M1144.9 277.9v-32.2M1144.9 814.9v32.2" stroke-width="4.0"/><path d="M1260.2 277.9v-16.1M1260.2 814.9v16.1" stroke-width="2.5"/><path d="M1375.5 277.9v-32.2M1375.5 814.9v32.2" stroke-width="4.0"/><path d="M1490.8 277.9v-16.1M1490.8 814.9v16.1" stroke-width="2.5"/><path d="M222.3 277.9h-32" stroke-width="4.4"/><path d="M222.3 289.0h-32" stroke-width="4.4"/><path d="M222.3 300.0h-32" stroke-width="4.4"/><path d="M222.3 316.7h-32" stroke-width="4.4"/><path d="M222.3 344.3h-32" stroke-width="4.4"/><path d="M222.3 372.0h-32" stroke-width="4.4"/><path d="M222.3 399.7h-32" stroke-width="4.4"/><path d="M222.3 427.4h-32" stroke-width="4.4"/><path d="M222.3 482.7h-32" stroke-width="4.4"/><path d="M222.3 538.1h-32" stroke-width="4.4"/><path d="M222.3 648.8h-32" stroke-width="4.4"/><path d="M222.3 731.9h-32" stroke-width="4.4"/><path d="M222.3 814.9h-32" stroke-width="4.4"/><path d="M1601.7 292.0h32" stroke-width="4.4"/><path d="M1601.7 318.3h32" stroke-width="4.4"/><path d="M1601.7 367.6h32" stroke-width="4.4"/><path d="M1601.7 457.2h32" stroke-width="4.4"/><path d="M1601.7 602.0h32" stroke-width="4.4"/></g>
<text transform="translate(166.5,291.1) scale(0.945,1)" font-size="37.5" font-weight="bold" text-anchor="end" >30</text>
<text transform="translate(166.5,302.2) scale(0.945,1)" font-size="37.5" font-weight="bold" text-anchor="end" >50</text>
<text transform="translate(166.5,313.2) scale(0.945,1)" font-size="37.5" font-weight="bold" text-anchor="end" >70</text>
<text transform="translate(166.5,329.9) scale(0.945,1)" font-size="37.5" font-weight="bold" text-anchor="end" >100</text>
<text transform="translate(166.5,357.5) scale(0.945,1)" font-size="37.5" font-weight="bold" text-anchor="end" >150</text>
<text transform="translate(166.5,385.2) scale(0.945,1)" font-size="37.5" font-weight="bold" text-anchor="end" >200</text>
<text transform="translate(166.5,412.9) scale(0.945,1)" font-size="37.5" font-weight="bold" text-anchor="end" >250</text>
<text transform="translate(166.5,440.6) scale(0.945,1)" font-size="37.5" font-weight="bold" text-anchor="end" >300</text>
<text transform="translate(166.5,495.9) scale(0.945,1)" font-size="37.5" font-weight="bold" text-anchor="end" >400</text>
<text transform="translate(166.5,551.3) scale(0.945,1)" font-size="37.5" font-weight="bold" text-anchor="end" >500</text>
<text transform="translate(166.5,662.0) scale(0.945,1)" font-size="37.5" font-weight="bold" text-anchor="end" >700</text>
<text transform="translate(166.5,745.1) scale(0.945,1)" font-size="37.5" font-weight="bold" text-anchor="end" >850</text>
<text transform="translate(166.5,828.1) scale(0.945,1)" font-size="37.5" font-weight="bold" text-anchor="end" >1000</text>
<text transform="translate(1657.0,305.2) scale(0.945,1)" font-size="37.5" font-weight="bold" text-anchor="start" >20</text>
<text transform="translate(1657.0,331.5) scale(0.945,1)" font-size="37.5" font-weight="bold" text-anchor="start" >16</text>
<text transform="translate(1657.0,380.8) scale(0.945,1)" font-size="37.5" font-weight="bold" text-anchor="start" >12</text>
<text transform="translate(1657.0,470.4) scale(0.945,1)" font-size="37.5" font-weight="bold" text-anchor="start" >8</text>
<text transform="translate(1657.0,615.2) scale(0.945,1)" font-size="37.5" font-weight="bold" text-anchor="start" >4</text>
<text transform="translate(222.3,898.8) scale(0.945,1)" font-size="37.5" font-weight="bold" text-anchor="middle" >0</text>
<text transform="translate(452.9,898.8) scale(0.945,1)" font-size="37.5" font-weight="bold" text-anchor="middle" >60E</text>
<text transform="translate(683.6,898.8) scale(0.945,1)" font-size="37.5" font-weight="bold" text-anchor="middle" >120E</text>
<text transform="translate(914.2,898.8) scale(0.945,1)" font-size="37.5" font-weight="bold" text-anchor="middle" >180</text>
<text transform="translate(1144.9,898.8) scale(0.945,1)" font-size="37.5" font-weight="bold" text-anchor="middle" >120W</text>
<text transform="translate(1375.5,898.8) scale(0.945,1)" font-size="37.5" font-weight="bold" text-anchor="middle" >60W</text>
<text transform="translate(45.3,544.5) rotate(-90) scale(0.94,1)" font-size="57.5" font-weight="bold" text-anchor="middle" >Pressure (mb)</text>
<text transform="translate(1777.0,546.5) rotate(-90) scale(0.953,1)" font-size="57.5" font-weight="bold" text-anchor="middle" >Height (km)</text>
<text transform="translate(910.2,930.0) scale(0.956,1)" font-size="32.7" font-weight="bold" text-anchor="middle" xml:space="preserve">MIN =   0.00  MAX =   0.64</text>
<rect x="230.00" y="964.7" width="85.22" height="21.5" fill="#00008b" stroke="#000" stroke-width="2.2"/>
<rect x="315.23" y="964.7" width="85.22" height="21.5" fill="#001ebe" stroke="#000" stroke-width="2.2"/>
<rect x="400.45" y="964.7" width="85.22" height="21.5" fill="#0030e0" stroke="#000" stroke-width="2.2"/>
<rect x="485.67" y="964.7" width="85.22" height="21.5" fill="#1a50ff" stroke="#000" stroke-width="2.2"/>
<rect x="570.90" y="964.7" width="85.22" height="21.5" fill="#4678ff" stroke="#000" stroke-width="2.2"/>
<rect x="656.12" y="964.7" width="85.22" height="21.5" fill="#85a9ff" stroke="#000" stroke-width="2.2"/>
<rect x="741.35" y="964.7" width="85.22" height="21.5" fill="#b4cdfa" stroke="#000" stroke-width="2.2"/>
<rect x="826.57" y="964.7" width="85.22" height="21.5" fill="#d4e8fa" stroke="#000" stroke-width="2.2"/>
<rect x="911.80" y="964.7" width="85.22" height="21.5" fill="#ffead6" stroke="#000" stroke-width="2.2"/>
<rect x="997.02" y="964.7" width="85.22" height="21.5" fill="#ffcdb4" stroke="#000" stroke-width="2.2"/>
<rect x="1082.25" y="964.7" width="85.22" height="21.5" fill="#ffa985" stroke="#000" stroke-width="2.2"/>
<rect x="1167.47" y="964.7" width="85.22" height="21.5" fill="#ff7846" stroke="#000" stroke-width="2.2"/>
<rect x="1252.70" y="964.7" width="85.22" height="21.5" fill="#ff501a" stroke="#000" stroke-width="2.2"/>
<rect x="1337.92" y="964.7" width="85.22" height="21.5" fill="#e13000" stroke="#000" stroke-width="2.2"/>
<rect x="1423.15" y="964.7" width="85.22" height="21.5" fill="#b92305" stroke="#000" stroke-width="2.2"/>
<rect x="1508.38" y="964.7" width="85.22" height="21.5" fill="#8b0000" stroke="#000" stroke-width="2.2"/>
<text transform="translate(315.2,1024.6) scale(0.97,1)" font-size="33" font-weight="bold" text-anchor="middle" >0.05</text>
<text transform="translate(485.7,1024.6) scale(0.97,1)" font-size="33" font-weight="bold" text-anchor="middle" >0.15</text>
<text transform="translate(656.1,1024.6) scale(0.97,1)" font-size="33" font-weight="bold" text-anchor="middle" >0.25</text>
<text transform="translate(826.6,1024.6) scale(0.97,1)" font-size="33" font-weight="bold" text-anchor="middle" >0.35</text>
<text transform="translate(997.0,1024.6) scale(0.97,1)" font-size="33" font-weight="bold" text-anchor="middle" >0.45</text>
<text transform="translate(1167.5,1024.6) scale(0.97,1)" font-size="33" font-weight="bold" text-anchor="middle" >0.55</text>
<text transform="translate(1337.9,1024.6) scale(0.97,1)" font-size="33" font-weight="bold" text-anchor="middle" >0.65</text>
<text transform="translate(1508.4,1024.6) scale(0.97,1)" font-size="33" font-weight="bold" text-anchor="middle" >0.75</text>
</g>
<g transform="translate(0,1944.0)">
<text transform="translate(912.8,165.3) scale(1.016,1)" font-size="51.8" font-weight="normal" text-anchor="middle" >f09.F-hist.cfmip.amip-lowff.cf03 - f09.F-hist.tn15.cmip6.fa03</text>
<text transform="translate(220.1,242.0) scale(0.983,1)" font-size="42.8" font-weight="bold" text-anchor="start" >Cloud fraction</text>
<text transform="translate(1603.7,242.0) scale(0.983,1)" font-size="42.8" font-weight="bold" text-anchor="end" >fraction</text>
<rect x="222.3" y="277.9" width="1379.4" height="537.0" fill="#00008b"/>
<clipPath id="cp2"><rect x="222.3" y="277.9" width="1379.4" height="537.0"/></clipPath><g clip-path="url(#cp2)" shape-rendering="geometricPrecision"><path fill="#001ebe" fill-rule="evenodd" d="M1611.3 265.9l0 561-1401 0 0-561Z"/>
<path fill="#0030e0" fill-rule="evenodd" d="M1611.3 265.9l0 561-1401 0 0-561ZM437.1 370.9l1.2 1.6 3 1.1 24 1.2 4.3-0.9 2.4-3-3.7-1.6-6-0.8-21 0.2-3 0.7ZM1326.6 532.9l0.7 3 2 2.8 1.5-2.8 0.5-3-2-1.7ZM1260.3 766.7l-3 2.1-1.2 1.1-1.2 3 5.2 3 12.2 2.2 10.9-2.2 2.6-3-13.5-9.1-3-0.4Z"/>
<path fill="#1a50ff" fill-rule="evenodd" d="M1611.3 265.9l0 561-1401 0 0-561ZM435.9 361.9l-5.3 6-1.2 3 2 3 3.9 3.2 3 1.8 27 4.4 6-0.8 17.8-5.6 6.4-3 1.3-3-3.3-3-4.2-1.9-9-3.1-12-3-27 0-3 0.4ZM1325.4 523.9l-5.5 6-1.6 3 0.2 3 3 12 3.3 9 1.5 2.9 3 1.8 3-2.5 3-5.9 3.9-11.3 1.6-9-2.5-3.5-6-5.6-3-1.7ZM1239.7 748.9l-0.4 3 0.8 18 0.8 3 5.3 3 17.1 3.9 9 1.3 15.5-2.2 10.2-3 0.9-3-26.6-17.7-16.4-3.3-10.6-4.7-3-0.5Z"/>
<path fill="#4678ff" fill-rule="evenodd" d="M1611.3 265.9l0 561-1401 0 0-74.2 24-0.2 3-1.7 1.3-1.9-0.3-3-1-1-3-1-24-0.1 0-477.9ZM778.6 319.9l4.7 1.7 28.1-1.7-25.1-1.7-3 0.1ZM431.3 355.9l-5 5.6-3.5 6.4-0.5 3 2.3 3 13.7 10.2 15 3.6 12 3.8 3 0.3 13.9-2.9 13.1-3.7 9.2-5.3 6.4-6 0.3-3-2.8-3-13.1-12.3-3-1.1-15-2.6-12-1.2-24 0.7-3 0.3ZM1269.3 369.8l-3.7 1.1-3.8 3-0.5 3 0 18 0.7 3 3.8 3 3.5 1.6 3 0.3 4.3-1.9 4.2-3 3.7-6 5.7-6 15.1-8.1 9-2.4 13.2-1.5 6.5-3-4.7-2.3-4.5-0.7-25.5-1.4ZM615.3 503.5l-1.9 2.4 1.9 5.3 3 1.9 2.9-4.2 0.4-3-3.3-3.3ZM656.2 505.9l-0.7 3-0.9 24 2.6 27 3.1 6.9 3-2.4 2.2-4.5 1.6-27-1.5-24-0.8-3-1.5-1.8-3-1.9ZM713.5 505.9l-0.6 3-1.5 24 2.9 6.9 8 11.1 5.4 12 4.6 5 3-1.7 3-4.2 4.9-11.1 7.1-11 2-7-3-6-8-8.9-4.5-12.1-2.8-3-1.7-1.3-9-0.7-3 0-3 0.9ZM1324.6 514.9l-4.3 3.2-6 6.9-3.9 7.9 0.1 3 2.1 15 2 9 3.6 6 5.1 6 3 2.5 3 0.9 8-6.4 8.8-9 2.6-12 1.4-15-5.8-8.1-9-8-6-3.4ZM1235.9 739.9l-8.7 6-1.7 3 5.3 24 3.8 3 10.7 3.2 27 4.8 15-1.2 12-2 3.8-1.8 3.7-3 0.4-3-4.9-5.8-30-20.3-30-9.7Z"/>
<path fill="#85a9ff" fill-rule="evenodd" d="M1611.3 265.9l0 561-1401 0 0-61.7 24-0.3 3-2.5 4.5-7.5 5.5-6 1.7-3 0.2-3-0.8-6-2.1-2.3-9-1-27-0.1 0-467.6ZM777.8 313.9l-15.5 2-9 2-27-1.2-30 0.2-4.4 3 7.4 2 48 4.5 15 4.1 18 1.8 24-5.1 24-2 15-0.5 54 0.1 57-1.8 21.7-3.1 3.3-3-25-3.4ZM524.6 316.9l-5.8 3 6.5 1.9 27-1.2 54 0 5.7-0.7-2.9-3ZM438.3 342.5l-9 3.2-6.3 4.2-2.7 3.2-3 6-2.3 8.8 0.1 3 2.7 3 20.5 15.5 16.7 5.5 10.3 5.6 3 1 3-0.2 24-5.1 12.5-4.3 9.6-6 10.6-12-0.9-3-10.8-7.9-13.7-13.1-2.7-3-4.6-7.5-3-0.6-24 0.8ZM1293.4 355.9l-12.1 4-30 6.4-12.2 4.6-2.6 3 0.1 3 2.6 21 2.1 3 4.1 3 14.9 7.5 9 3.8 3 0.1 15-6.8 12-6.7 6.6-9.9 2.7-3 5.7-4 9-3.6 30.6-7.4 5-3-1.7-3-3.9-2.5-15-5-36-7.3-3 0ZM726.3 365.4l-4.9 2.5-3.4 3 2.2 3 6.1 1.8 21 0.2 6-0.2 3-0.9 5.8-3.9-1-3-1.8-2.4-3-3.5-3-2ZM294.3 366.4l-3.3 1.5-3.2 3 6.5 2.9 24 0.2 3-0.3 4.1-2.8-1.1-4.9-3-2.6ZM666.3 365l-6.1 5.9 0.8 3 5.3 3.2 3 0 3-1.6 2.2-1.6 1.1-3-6.3-6.1ZM716.9 487.9l-5.7 3-8.9 7.8-24 2.5-3-0.1-9-8.3-6-3.5-6 2.3-9 7.8-9 1.9-3-0.1-3-1.7-6-5.8-6-4.2-3 0.1-7.4 4.3-2.9 3-3.7 6-1.2 3 0.3 3 2.9 9 4.2 9 7.8 12.2 3 3 24 7.5 3 2 2.7 8.3 2 12 2.6 9 4.7 8.9 3 3 3-1.2 6.8-7.7 6.6-12 6.9-18 3.7-5 3-0.8 5 5.8 7.5 15 5.5 4.5 9 5.1 15 16.9 27 2.9 3-1.5 3-4.3 5.9-14.6 6.1-9.1 3-8.9 0.1-27-2.8-27-3.3-3.2-15 0-12-1.4-9-8.4-6-3.9-12-1.4ZM1325.4 502.9l-13.4 9-3.7 4.5-2.4 4.5-3.4 12 0.2 24 0.2 3 2.4 7.3 6 10.6 6 5.9 9 7 3 0.7 3.8-4.5 23.2-21.7 7.1-5.3 0.9-3 0-21-0.9-3-4.1-3.3-12.6-14.7-12.9-9-4.5-4.4ZM258.8 712.9l-6.7 6-1.6 3 0.2 6 1.3 3 3.3 1.3 9 0.2 3-1.8 4.3-5.7 1.3-3-0.4-3-5.2-7.5-3-1.3ZM1233 730.9l-8.7 4.3-6 4.1-6.3 6.6-0.7 3 5.3 12 4.3 12 3 3 12.4 4.4 36 6.5 27-1.3 9-3.8 3.7-2.8 2.6-3 0.3-3-1.5-3-5.1-6.4-33-23.3-33-12.1Z"/>
<path fill="#b4cdfa" fill-rule="evenodd" d="M1611.3 265.9l0 472.6-24 0.4-8.3 7-7.9 12-4.8 3.8-9 4.7-4 3.5-2.1 3 2.8 3 6.3 1.3 51 0.1 0 49.6-1401 0 0-51 24-0.3 3-2.2 4.3-9.5 3.8-6 3.9-4.2 21.4-16.8 5.6-7.8 2.9-7.2-1.4-6-4.5-7.6-6-6.1-3-1-7.9 2.7-7.1 4.3-4.9 4.7-7.1 9.5-3 0.8-24 0 0-342.1 24 0 18-4.8 12-1.8 12 2.9 15 2.3 30 0.1 6.5-2.9 4.4-3 3-3 3.6-15 2.1-3 4.4-2.9 6-1.8 3 0 24 0.7 9 0.9 6 1.2 6 2.7 2.4 2.2 1.8 3 3.6 12 16.8 12 14.4 11.7 8.3 3.3 6.7 3.6 6 4.7 9 9.2 12 4.3 8 5.2 7 3.4 3-0.8 4.6-2.6 8.5-9 13.9-12.2 5.8-8.8 6.2-6.9 9-7.8 6-3.8 3-0.2 9 1.8 18 5.8 3 0.3 24 1.4 27-3 3 0.4 6 4.2 6 2.9 15 3.6 9-1 9-2.4 6-2.7 6-4.1 21 2.4 36 0.2 23.7-9.1 6.6-3 4.1-3-0.8-3-10.7-21 2.6-3 10.5-4.9 9-3.5 9-2.5 9-1.5 24-2.2 57 0.3 57-3.1 30-3.2 30 0.1 21.6-3.5 5.1-3-11.6-3-15.1-1.9-30 0.2-30-2.1-168 0-33 2.1-57-0.3-15 1.7-15 3-24 0.2-18-3.3-15-1.6-87 0.1-15.1 1.9-14 3-33.9 10.1-33 7.2-18 6.2-27-1.8-18-0.1-12 0.2-27 2-6 1.9-12 5.3-12 3.9-27 14.8-3 1-27-1.6-27-0.1 0-100ZM1197 313.9l-11.7 2.8-3 0.1-30-1-81 0.1-23.7 1 40.4 3 67.3 0.8 20-0.8 7-2.5 3 1 0.6 1.5 26.4 8.1 6 0.1 9-1.2 15-4 3-0.2 27 1.7 9 3.2 5.5 4.3 3.7 6 1.3 6-2.3 3-8.2 4.5-9 3.1-30 4.1-31.6 12.3-1.1 3 8.7 11.9 7.1 15.1 7.9 9.2 6 4.8 6 3.4 15 6.3 9 2.8 3 0.1 6-2 21-10.1 4.4-5.5 7.6-12.5 5.7-5.5 4.6-3 7.7-3.2 30-7.1 11.1-4.7 3.5-3-0.7-3-4.9-7.6-9-9-3-1.4-3-0.4-24-0.8-7-1.8-5-3 0.7-3 2.3-3 3.2-3 8.8-6 3-3.6 1.4-2.4 0.5-3-3.8-3-4.1-1-6-0.3-51 0.1-30 0.8-11.8-2.6-15.2-1.9ZM603.2 469.9l-2.9 3.4-16.2 29.6-1.3 3-0.3 3 0.2 24 10.6 18 3.7 9-1.1 27 4.4 8.6 3 3.2 3 0.7 9 0.4 3-1 3-3.6 6-13.3 3-2.8 3 0.5 1.1 1.3 3.2 6 3.4 27 2.7 6 6 9 3.1 9 0.6 27 0.8 3 5.1 6 7 4.9 3 0.1 3.8-2 5.2-4.5 3.1-4.5 0.6-3 0.1-21-0.8-30 3-5.7 3-3.4 3-1.8 3-0.2 9 0.5 3 1.5 3 3 3 4.4 3.5 7.7 6 9 3.7 9 6.6 9 7.6 6 0.9 3 0 9 0.6 3 1.9 3 2.8 3 5.4 4 3 1.1 3-1.2 4.1-3.9 4.3-6 1.6-15 1.9-12 1.7-6 2.4-6 6.5-12 4.9-12 5.6-9.8 2.3-8.2 1.9-27-0.5-27-4.8-12-3.5-15-4.4-7.6-3-3.6-3-2-12-3.1-12-4.3-18-10.2-15-6.7-12 2.1-3 2.2-6 6.2-6 3.6-12 1-3-0.2-3-1.5-12-8.3-15 2.4-12 6.6-3-0.3-5.3-3.3-6.7-7.1-3-1.7-9-0.7ZM1323.1 478.9l-17.8 15.8-6 7.1-9.4 31.1-5.7 27 4 15 5 12 7.7 9 10.4 10.3 15 12.5 3 1.1 6-2.9 6.9-6 4.7-9 4-15 2.7-3 5.7-4.1 14.8-4.9 9.2-5.2 3-2.7 2.7-4.1 1.3-3 0.1-3-1.4-21-0.6-3-2.1-2.8-19.4-12.2-14.3-12-8.4-9-13.2-18-1.7-1.2-3 0ZM294.3 524.1l-7 5.8-2.5 3-0.5 3 0.3 24 5.2 6 4.5 2.5 8.7-5.5 3.5-3 6.9-9 7.9-5.5 3-3.6 2.5-8.9-2.5-5.8-3-2.9ZM468 550.9l-2.7 1.1-3 2.5-4.8 5.4 1.1 3 3.7 4.7 3 2.5 3 1.2 27 0.1 6.1-5.5 2.1-3 1.1-3-3.3-4.3-6-4.7ZM348.5 580.9l-3.1 6-3.5 27 2.6 24 1.5 3 5.3 3 3-0.4 5.6-2.6 1.5-3 0.1-24-3.1-27-4.1-6.1-3-2.1ZM1218.3 724.1l-9 4.4-6.2 5.4-5.4 9-1 3 0 3 1.2 3 9.4 18 2 3 3.4 3 8.6 4.4 12 3.1 36 5.9 27 1 6-0.4 9-3 6-3.9 3.6-4.1 1.5-3 0.1-3-2.2-6.4-3.3-5.6-6.1-6-11.6-6.1-8.1-8.9-3.8-3-6.1-3.2-24.9-8.8-6.6-3-7.5-4.8ZM639.3 320.4l3 0.1 9 1.8 6 2.6 3 2.7 2.3 4.3 2.3 9 0.1 3-0.9 3-6.8 9.5-9 7.8-9 5.1-30-1.2-24 0-33 1.3-27-10.6-10.7-8.9-2.8-3-1.2-3 1-3 1.7-2.4 4.4-3.6 4.6-2 9-1.9 21-2.8 57-0.2 11.6-2.1ZM693.3 331.9l6 0.3 12 3.1 9 3.3 10.1 5.3-1.2 3-29.9 19.1-3 1.2-6-3.9-9-7.9-7.6-8.5-1.1-3 0.8-3 1.9-2.9 3-2.4 6-2.3Z"/>
<path fill="#d4e8fa" fill-rule="evenodd" d="M1611.3 265.9l0 92.5-108 0.2-3 0.8-3 2.6-4.1 5.9-0.7 3 3.1 3 4.7 2.6 3 0.8 27 3.8 24 0.8 6 0.9 6 2.9 3 2.4 3.5 3.8 3.8 6 3.7 3 7 4 24 0.4 0 305.6-24 0.2-9 5.1-15 11.8-13.1 17.9-13.9 12.6-11.5 14.4 0.7 3 4.8 3.3 6 2.1 9 1.8 15 1.4 51 0 0 42.4-1401 0 0-44.8 24-0.2 3-1.4 8.7-16.6 4.9-6 4.4-3.8 6-3.7 11.4-4.5 3.9-3 2.7-3.4 2.9-5.6 3.2-12-1.7-9-4.4-9.7-3-3.9-9-8.8-3-1.7-21 7.5-6 3.3-3 0.8-24 0.1 0-295.3 24-0.2 3-1.3 5-5.8 7-5.5 6.5-3.5 8.5-3.1 57-0.2 6-2.6 14.1-9.1 3.3-3 3.6-5.5 3-3 3-1 12-1.3 12-0.9 3 0.4 6 3.4 7.8 7.9 5.4 3 7.8 3 6 3.6 12 9 12 10.7 12 7.3 8.6 8.4 6.4 9.6 3 3.1 27 13.3 3 0.2 19.2-2.2 4.8-1.3 6-2.8 5.6-4.9 5.5-9 3.5-9 2.7-12 1.3-3 5.4-4.8 3 0.3 8.2 4.5 1.8 3 0.4 3 1.3 21-2.6 24-4.6 15-3.2 18-7.3 21.7-3.7 17.3-2.5 6-4.5 6-0.3 3 0.9 3 3.2 3 9.9 2.3 6 8 3.9 7.7-0.9 3-3 4.9-3 3.3-3 1.5-3.4-0.7-5.6-2.9-6.1-6.1-1.5-3-1.6-9-2.2-3-6.6-2.5-9-8.1-6-3.7-15-4.8-24 0.2-6 1-6 3.5-12 10.5-9 9-4.7 6.9 0 24 1.1 6 3.6 8.3 6.2 6.7 4.2 6 1.8 6 1.9 27 1.1 99 1.1 6 4.8 6 5.9 4.5 3 0 3-1.7 6-5.7 2.1-3.1 1-3 2.7-24-2.1-27 0.2-27 2.1-4.4 4.1-4.6 13.9-8.6 6.2-6.4 1.6-3 0.5-3 0.3-24 3-6 3.4-4.4 6-5.3 3-1 27 2.8 21 0.8 3 1 3.2 3.1 2.8 5 3 8.5 6.5 10.5 4 12 0.1 51 1.6 24 0.3 3 1.5 3 4 3.7 6 4.4 3 0.2 3-1.1 6.1-4.2 9-12 5.9-4.4 3-0.8 6 3.8 6.6 7.4 1.2 3-1.5 24 0.8 3 4.9 5.4 6 4.4 3 1.5 3 0 4.1-2.3 4.9-4.5 9-12.8 4.6-3.7 4.4-2 3 1 5.6 4 3.4 3.9 6 8.9 6 5.2 3 1.4 3-0.2 3-2 11.6-8.2 9.4-8.8 3-1.8 30-4.9 7.2-5.5 5.3-6 0.6-6-2.7-21 6.6-27 0.5-12-3.6-12-1.1-6 1.8-24 3.4-30.3 3-11.3 6-12.1 0.2-3.3-1.6-24-12.7-24-12.9-18.8-6-5.7-10.5-5.5-7.5-5.1-12-4-4.8-2.9-16.1-15-6.1-8.1-5.2-3.9-1.1-3 0.4-9 2.5-24 0.6-3 3.2-3 5.6-1.3 27-0.4 21-7.6 21-9.4 14.7-5.3 4.9-3-10-9-6.6-8.3-3.3-6.7 1.6-3 5.9-3 7.8-2.7 27-4 60 0.1 87-7 30 0.1 30-3.3 27 0.6 27 1.5 30-0.1 27 2.2 30-0.7 27 7.8 19.9 2.5 10.1 2.5 27-1.1 3 0.9 3.1 3.7-3.1 3.1-6 0.6-24 0-54 20.7-4.5 2.6-0.2 3 2.6 3 10.6 9 6.5 7 3.8 5 8.2 14.8 4.9 6.2 4.1 3.7 15 10.6 3 1.8 6 1.4 27 2.2 7.8 1.3 7.1 3 3.1 3.4 2.2 5.6 0.2 3-0.2 24-5.2 13-6.9 23-11.1 24.8-3 4.8-8.3 9.4-4.1 6 0.9 12 2.1 15 3.6 6 15.4 18 11.4 9.5 12 12.6 9.1 7.9 0.8 3 1.6 21-0.4 30 2.7 6 2.3 3 4.9 4.2 3 1.6 3 0.4 3-1.6 5-4.6 9.2-15 6.8-6 3-1.5 3-0.6 9 1.1 1.5 1 1.7 6 0.1 30 2.7 3.2 6 2.8 6 1.4 5.4-4.4 1.2-3 0.1-24-3.3-9-3.4-5.2-9-1.9-3-2-1.3-5.9-1.6-30 2.9-3.7 12-9.2 3-5.7 3-8.4 2.1-12 2.3-9 8.4-18 2.9-9 1-6-4.7-12.3-4-14.7-5-7.4-6-6.9-16.6-12.7-16.4-14.5-10.6-12.5-13.4-10.3-3-2-3-0.9-12-2.5-4.5-2.3-2.8-3-1.7-3.6-1.1-5.4-1.3-18 0.7-6 7.7-11.7 6.3-12.3 2-3 3.7-3.1 6-3.3 27-6 12-3.9 15-6.6 5.4-4.1 0.2-3-1.4-6-3.5-9-3.3-6-0.7-3 3.2-6 3.1-2.8 6-2.2 12-2.9 21-3.8 15-1.8 9 0.3 24 3.7 6-3.4 4.4-5.1-0.8-3-3.6-2.2-6-2-3-0.3-84-0.1-27 1.4-15-3.5-18-1.7-84 0.2-30-1.4-30 1.5-138 0-30-1.5-63-0.7-168 0-30 0.8-57-0.1-33 1.5-24 0-30-1.5-87 0-52.5 3.6-13.5 2.8-18 6.7-30 2-27-0.4-9.4-2.1-14.6-4.7-6-1-9 2.1-18 5.8-21 4.5-9 3.1-9 6.1-7.3 8.1-7.7 4.9-6 2.6-54-0.4 0-85.1ZM1524.7 313.9l-5.4 3-1 3 1.4 3 4.6 5 3 2.1 3 0.8 3.3-1.9 5.1-6 1.2-3-0.9-3-4.7-3-4-1.2ZM292 502.9l-9.7 6-9 7.8-6.6 7.2-5.3 9-2.2 15-3.8 12-0.7 24 0.6 3 6 6.1 3 2.1 3 1 27 3.1 3-0.5 4.6-2.8 3.8-9 15.6-10.4 3 0.3 2.9 4.1 1.2 3 0.5 3-1.6 5.9-3 6.9-3 3.4-6 2-3.9 2.8-1.3 3 0.6 3 6.7 6 3.9 4.9 3 6.5 3.2 9.6 2.8 4.1 3 2.8 6 3.4 4.9 1.7 22.1 4.3 3.6 1.7 3.2 3 2.6 6 0.7 24 1.9 5.2 3 1.9 4.5-4.1 0.7-3-1.9-27-0.2-51-8.2-27-2.6-6-5-9-7-9-3.3-3-13-8.4-2.8-3.6-2.5-6-2.8-12-3.3-9-4.1-9-3.8-6-4.7-2.8-3-0.3-21-0.8ZM1529.9 577.9l-5.6 3.3-6.6 5.7-0.7 3-1.3 21 0.4 3 4.4 6 6.8 5.4 3 1 3-1.2 6-4.7 8.7-12.5 3-3 15.3-9.7 4.7-5.3 1.1-3-2.2-3-3.9-3-5.7-3.2-3-0.8ZM1215.3 702l-15 8.9-15 6.3-2.1 1.7-2.1 3-0.3 21 0.7 6 10.4 21 4.5 6 9.9 5.5 12 3.9 24 2.6 27 4.3 30 3 9-0.5 9-1.5 5.6-2.3 3.4-3 5.9-12-0.5-6-4.7-15-5.5-9-4.2-8.7-3-3.4-6-3.8-12-4.2-9-1.9-15-1.4-3-0.9-4.3-2.7-13.7-13.2-9-6.8ZM639.3 331.2l6 3.1 6 5.9 1.9 3.7-0.7 3-5.4 6-7.8 5.8-3 0.4-30-0.6-54 0.4-24-9.5-4-2.5-0.7-3 7.7-3.7 21-4.9 57-0.2ZM696.3 341.8l3 0.7 3.2 1.4 0.3 3-3.5 2.7-3 1.1-4.4-3.8 0.1-3ZM639.3 415.1l27 0.7 6 2.1 6 4 2.8 3 1 3 0.5 9 1 3 6.7 5.2 3 3.8 1.3 3-0.2 3-2.2 3-1.9 2.2-3 1.4-12-0.2-9-8-6-3.5-12 7.8-3 1.3-12 2-3-1.6-3.3-4.4-1.2-3-1-24 0.8-3 2.5-3 5.2-4Z"/>
<path fill="#ffead6" fill-rule="evenodd" d="M1611.3 265.9l0 36.8-1401 0 0-36.8ZM1044.3 328.9l27 0.5 27 2.5 30-0.2 30 4.1 27-0.9 29.1 9 0.1 3-35.7 15-5.5 3.5-5 5.5 0.1 3 5.2 9 5.1 6 9.6 9 1.3 3 3.3 15 3.1 9 4.3 6.1 6 5.6 23.3 15.3 6.7 6.9 6 3.7 3.7-1.6 6.5-6 4.8-3.2 12-2.9 3 0.3 4.6 2.8 1.2 3 0.1 24-2.8 27-3.1 6.7-3 2.7-18 4.3-6 2.1-6 3.3-15 14.8-18 11.3-5.2 5.8-6.8 9.9-6 4.7-9 5.1-6.9 7.3-1.1 3 1.3 3 2.4 3 4.3 3.9 13.3 8.1 4.7 5.3 1.8 3.7 0.3 51-3.9 27-1.7 3-8.5 5.4-12 4.8-5.1 4.8-3.3 6-1.5 6 0.2 30 2.9 18 1.1 3 2.7 2.7 6 2.8 9 2.7 13.6 6.8 13.4 3.6 27-0.5 6 0.4 42 6 20.7 5.5 1.7 3 0 21-397.7 0 0-21-1.1-6-4.6-5.9-6-4.5-3-1.2-3-0.2-81-0.1-3-0.7-6-3.7-4.5-4.7-1.5-2.7 0-3.3 6.4-9 11.6-9.5 10.8-11.5 7.2-5.3 6-3 27-0.4 6-2.3 4.9-4 10.1-13.9 14.2-10.1 3.8-4 3-5 0.4-6-1.1-21-1.3-3-4-5.3-6-4.9-27-0.9-27 0.1-3.6-1-1.9-3-0.4-3 1.3-9-0.7-3-1.2-3-8.7-12-2.1-6-0.2-6 0.4-21 2.1-6 3-5.2 5.2-6.8 2.2-6 2.1-30-6.4-9-6.1-6.5-6.1-11.5-2.9-3-3-1.3-12-2.8-18-19-24-21.4-3-1.4-12-0.1-2.9-2-1.6-3 0.2-3 3.5-9 0.6-12 0.9-3 12.9-15 7.4-6.5 27-15 15-6.5 18-4 12-3.5 30 1.4 24 0 3-0.2 4.7-1.7 2.8-3-4.5-3.8-3-1.5-3-0.2-24 0.5-30 1.7-12-6.9-15-10.1-3.1-3.7 3.1-3.3 12-2.7 15-2.3 57 0.4 45-4.6 39-2.9 33-0.1ZM1443.3 339.5l5.5 1.4 6.3 3 3.1 3 6.3 21 1.7 3 22.1 11.7 12 7.3 13.4 5 16.6 7.6 24 1.3 6 1.3 27 16.2 24 0.4 0 128.1-24-0.1-30-1.6-27 1.9-6 3.8-5.9 6.1-15.1 10.1-3 1-3-1-6-4.4-9-11.8-3.4-2.9-5.6-3.2-30-1.9-27-6.3-3-4-4.3-8.6-5.8-9-22.9-26-12-9.8-12-6.4-32.2-23.8-2-3-3.8-9-2.7-9-0.5-6 6.1-12 5-12 2.7-3 33.4-8 12.6-4 11.4-4.6 13.6-7.4 3.8-3 4-9 5.6-7.3 17.4-10.7ZM555.3 342.5l54 0 27-1.3 3 0.6 2.2 2.1-0.7 3-1.5 1.3-3 0.7-78 0-6-0.4-3.8-1.6 0-3ZM378.3 369.4l3 0.5 7.2 4 22.8 8.8 12.3 9.2 14.7 14.4 6 4 6.6 5.6 5.4 6.3 9 14.7 3 2.7 15 8.2 6 4.1 6 11.1 3 1.7 3 0.7 21 3.2 3 1.2 3.7 3.1 4.4 6-2.6 27-2.5 4.5-3 3.3-3 1-27-4.1-24 2.1-6 1.1-21 11.2-9 6.1-4.2 4.8-16.9 24 2.2 30 3.3 27 1.4 51 0 51-0.6 3-1.6 3-4.6 5.5-3 2.4-9 4.5-6 5.1-2.1 3.5-0.1 3 2.2 3.5 6 5.2 11.7 6.3 4.1 3 5.2 5.4 1.6 3.6-1.4 27 0 24-213.2 0 0-38.9 24-0.1 3-1.2 3.5-4.8 7.5-15 8.1-9 7.9-5 21-3.2 1.9-0.8 2.5-3 1.3-9 0.8-15-1.7-18-6.3-24-2.6-6-3.9-6-0.6-3 3.3-24 2.3-3 3.8-3 5.2-2.8 3-0.5 4.6 3.3 5 6 3.6 15 4.2 12-2.6 21 0.1 6 3.1 4.7 6 5.2 3 1.2 3-1.7 3-5.4 1.5-4 3-18 2.5-6 3.1-3 10.9-2.6 3-0.1 3 1.3 2 1.4 2.2 3 3.9 9 6.1 21 5.1 9 4.7 5.1 3 1.4 3-0.4 7.1-3.1 4.9-4.1 4.5-7.9 1.8-9-0.5-78-4-39-2.3-12-2.2-3-15.3-5.8-24-15.1-3-2.5-2-3.6-4.4-18-3.2-9-5.3-6-6.1-5.3-6-4.2-3-1.1-27-5.1-15 1.5-12 2.8-4.4 2.4-3.8 3-3.8 4.4-2.8 4.6-5.2 12-3.8 18-3.1 6-3.1 3.9-3 1.2-24 0.1 0-106.9 24-0.2 3-1.7 6.7-13.4 15.3-21 5-4 9-2.7 17-2.3 31-0.5 6-2.6 24-15.2ZM1443.3 574.1l3 0.6 4.7 3.2 4.3 4.5 2.5 4.5 0.3 51 0.3 3 3.1 6 5.8 6.7 11.3 8.3 11.3 12 15.3 9 4.1 3.2 3 3.2 8.1 11.6 12.9 9.7 3 3.8 2.3 4.5 0.1 3-4.3 6-4.1 4.3-7.6 4.7-4.4 4.1-21.6 28.9-1.7 3-0.2 3 1.6 3 6.9 7.8 6 3.9 7.7 3.3 10.3 2.7 3 0 12-3.1 15-1.8 54-0.1 0 35.3-267.2 0 0.2-24 4-15 1.9-12-2.3-27 1-3 5.4-6 2-1.4 3-0.5 24 3.5 6-0.6 6-2.4 6-3.9 6-7.3 2.4-5.4 0.4-3 0.6-24-6.1-54 4-27 4.7-9.3 3-3 9-6.2 10.1-14.5 4.9-5ZM234.3 625.7l3 0.6 7.2 5.6 4.8 5.8 1.6 3.2 3.1 24-1.4 3-15.3 8.1-27 0.5 0-50.8ZM1263.3 634.8l6-2.7 3 0.3 6.4 5.5 2.1 3 0.5 3 1.2 24-0.6 24-0.9 3-2.4 3-3.3 2.8-3 1.4-3-1-3-2.6-3.6-3.6-1.5-3-4.1-24 0.1-27 2.1-3ZM522.3 735.9l3-1.3 3-0.2 24 0 24 0.9 6 1.2 11.8 9.4 9.2 9.8 12 8.7 6 6.6 1.2 1.9 0.5 3-1.6 3-3.1 3.6-6 4.4-3 1-57-0.3-5-2.7-3.5-3-11.2-15-13.1-9-5.1-6-1.3-3 0.4-3 4.4-6ZM753.3 766.3l3 0.1 6.6 3.5 3.3 3 0.9 3-1.5 3-3.3 3.6-6 4.2-3 0.5-3-1.6-3-2.8-3-3.9-1.2-3 1.2-3Z"/>
<path fill="#ffcdb4" fill-rule="evenodd" d="M1041.3 333.6l30 0.5 27 3.6 30-0.3 30 6 24-0.9 7 1.4-0.1 3-3.9 1.7-15 2-9 2.8-3 2.4-2.2 3.1-5.9 12 0.4 3 11.7 24 0.8 3 1 24 7 27-0.4 24-0.3 3-1.4 3-2.3 3-5.4 4.9-12 7.4-5.3 5.7-6.1 9-6.6 5.6-3 1.5-3 0.5-27 0.6-3 1.6-6 5-4.5 6.2-0.4 24-0.3 3-1.5 3-5.5 6-14.8 9.4-4.9 5.6-1.4 3-0.3 24 0.4 3 1.7 3 5.6 6 14.4 9 2.9 3 8.6 12.3 6 4.7 7.4 4 4 3 3.6 3.9 2.6 5.1 0.2 78-0.8 3-4.4 6-3.6 3.1-6 3-111 0.2-3-0.2-3-1.2-6.6-4.9-4.4-6-0.7-3-0.1-21-1.3-6-4.9-6-15-10.3-5.8-7.7-2.8-33-2.7-21-4.5-6-8.2-6.2-5.9-5.8-9.1-13.6-3-3.4-15.1-10-5.8-6-1.8-3-3.3-27-0.7-27-2.9-24-1.2-3-4.6-3-3.6-1.1-21-0.7-6-1.4-6-2.8-9-7.6-6-3.9-15-2.8-9-9.1-12-9.5-8.8-9.1-1.7-3-1-6-4-9-2.3-9 0.3-3 2-3 6.5-6.6 12-9.4 8.8-8 15.2-8.1 30-4.4 57 0.5 30-12 3-3-3.3-3-11.7-8-18-10.9-30 2-27 0.2-6-4.3 4.4-3 31.6-0.3 27 1.5 2.7-1.2 18.3-2.9 36-4.1 30-1.5 27 0.1ZM1416.3 373.7l27-0.1 9 2.8 15.6 6.5 20.7 12 4 3 2.4 3 5.3 8.5 5.1 3.5 9.9 3.3 12 2.4 30 1 3 1 6.3 4.3 0.6 3-3.4 6-2.8 3-8.9 6-3.8 3.6-6 9.1-4.7 5.3-16.3 10.7-4.7 4.3-7.3 9-3 2.7-30 24.3-6 2.4-24 1-30-3-15.5-15.4-5.5-7-7.1-11-1.9-1.7-30-12.3-16.7-13-10.3-18.7-2.3-5.3-0.4-3 2.7-6.5 6-8.4 6-5.6 5.6-3.5 39.4-11.9 27-14.4ZM372.3 376.7l9-0.4 27 9 9.7 6.6 7 6 10.2 12 9.1 7.2 4.8 4.8 2.4 3 9.9 18 3.9 5.2 4.4 3.8 1.5 3 2.5 24-1.7 3-15.2 18-6.5 4.7-13.4 7.3-7.6 5.4-9 8.2-9 10.7-3 2.6-27-1.6-7.3-4.3-12.1-27-10.6-9.4-6-6.4-24-18.1-33-15.5-12-7.4-6-5.4-3.2-3.8-3.5-6-2.1-6 0.1-3 5.7-7.7 10.6-10.3 7.2-6 9.2-3.2 27-0.3 3-0.9 27-16.8ZM1443.3 684.2l3 0.8 6 4.3 4.5 5.6 0.4 3 0.9 24 2.3 27-0.4 27 1.6 27 0 24-32.3 0 0.3-78 3.7-27 0.6-27 3.6-6 2.8-2.9ZM351.3 686.6l3 4.2 1.3 4.1 1.7 12 3.4 15-3.4 6-3 3.3-3 1.7-3-1.5-3-2.7-4.5-6.8 0-3 4.5-24 3-5.9ZM264.3 756.5l6-0.4 12 2.3 6 3.8 2.8 4.7 2.1 9-1.4 27 0 24-81.5 0 0-32.9 24-0.1 3-0.9 3-3.1 3-4.7 5.1-12.3 3.9-5.9 5.7-6.1ZM981.3 789.4l3-1.1 3-0.2 78 0 6 0.7 7.5 5.1 4.6 6 1 6 0 21-114.9 0 0-21 1-6 4.6-6ZM1182.3 796.2l3-0.4 15 2.7 12 1.1 15-3.8 15-1.7 38.7 5.8 7 3 1 3 0 21-119.3 0 0.4-24 2.7-3ZM1557.3 799.2l54-0.4 0 28.1-62.6 0 0-21 0.8-3 5-3Z"/>
<path fill="#ffa985" fill-rule="evenodd" d="M951.3 340.7l33-1.3 84-0.8 15 2 15 3.1 30-0.4 2.7 0.6 4.5 3-0.8 3-6.4 9.8-9 6-2.5 2.2-2 3 0.9 3 2.9 3 9.7 7.1 8.3 13.9-0.4 3-4.9 7.4-3 2.9-11.9 7.7-5 6-0.4 3 1.9 21-0.1 3-1.4 3-7.1 7.3-6 3.4-24-0.9-3 0.1-3 1.1-7.9 7-10.1 13.4-5.8 4.6-3.2 1.5-27-0.2-3 0.8-6 4.6-4.8 5.3-1.8 3-0.5 3-0.3 51-4.6 6.5-6 4.9-3 1.3-3-0.8-4.3-2.9-4.7-4.8-4.6-7.2-4.4-5.1-15-9.7-5.7-6.2-1.6-3-0.3-3 0-21-0.5-3-2.4-3-4.5-3.9-6-3.6-3-0.7-27-1.6-11.1-5.2-12.9-3.4-6-0.9-18-0.1-6-1.5-6-4.8-9-5.5-9-9.2-3-1.4-12 0.3-15-5-1.6-1.5-0.4-3 2.7-6 0.6-3-0.6-3-6.7-7.5-2.6-4.5-0.1-3 2.7-2.7 12.4-9.3 10.9-12 3.7-3 6-1 24-0.7 57 0 27-10 18-4.8 11.5-4.5 4.8-3 0.9-3-26.2-16.7-6.2-4.3-3-3 5.8-3ZM369.3 382.7l12-1 27 7.8 6 3.9 5.3 4.5 9.7 13.4 12 9.8 3.6 3.8 6.7 15 6.9 12 0.3 6-2.5 18-0.8 3-4.1 6-10.1 9.2-3 1.8-16.8 7-10.2 7.3-3 1.5-3-1-24-13.2-24-19.1-27.8-26.5-8.2-12.4-3-1.4-5.5-1.2-18.5-2.4-7.7-6.6-0.9-3 2.6-3.2 6-4.9 27 1.3 3-3 5.5-14.2 2.2-3 19.3-12.2ZM1413.3 382.4l6-1 18 0 6 0.2 3 0.9 9 3.7 10.7 5.7 8.8 6 2.1 3 3.7 12 5.2 12 0.7 3 1.1 24-8.1 27-6.2 5.8-3 1.3-27 4.4-14.4 3.5-12.6 1.6-3-1.3-3-2.7-12-14.4-12-10.9-28.3-11.3-4-3-3.9-6-9.9-18-0.4-3 4.5-6.1 6-5.6 6-4.2 30-12.2ZM264.3 760.2l3-0.5 3 0.6 9 3.6 3.7 3 4 6 0.6 3-2.1 27 0 24-75.2 0 0-26.3 21 0 6-1.1 3.2-2.6 4.6-6 2.8-6 2.7-9 3.4-6 5.4-6ZM1230.3 799.7l12-2.4 19.2 2.6 11.7 3 1.4 3 0 21-50.7 0 0-21 0.7-3Z"/>
<path fill="#ff7846" fill-rule="evenodd" d="M1068.3 343.5l3.6 0.4 6 3-0.6 3-3 4.2-3 2.9-3 1.3-54 0.2-27 2.3-3-0.1-12-5.5-18-4.4-4.6-3.9 7.6-2.5ZM1068.3 385.5l3 1 3 2.5 5 5.9 1.6 3-0.6 3-4.5 6-4.5 4.2-9 6-10.9 13.8-7.1 6.3-3 1.7-3 0.3-24-0.1-6 1.6-9 6-6.8 8.2-5.2 5-3 2.1-3 0.6-27 1.1-27-2-30 1.3-27-1.2-21-0.1-6-0.7-9-2.3-3-2-3-4.8-0.8-6-2.2-4-6-3.9-9-4.4-6.1-5.7-0.9-3 7-7 3-1.4 81-0.2 6-0.6 6-2 6-3.6 3-3.2 3.7-6 5.3-3.7 3-0.8 24-1.7 15-1.8 9-2.3 9-4.3ZM366.3 388.8l15-1.8 27 6.7 6 4.2 6.6 12 4.8 6 12.6 9.4 10.8 26.6 0 3-3.1 12-3.2 9-1.6 3-2.9 2.8-3 0.9-27 2.5-16.7-6.2-13.3-3.2-9-5.2-6-5.2-3.7-4.4-8.3-12.7-11-11.3-4-6.2-2.1-5.8 5.4-24 2-3 9.7-6.2ZM1410.3 391.6l6-2.3 27 0.1 11.8 5.5 4.5 3 1.8 3 2.5 24-1.5 9-3.5 12-2.7 6-3.9 5.2-18 16.2-9 5.2-9 3.1-3-1.3-12-12.3-12-10.5-9.2-5.6-5.8-8.1-3-2.8-6-3.6-6-2.4-3-2.6-2.6-4.5-0.3-3 2.9-3 3-1.2 24-2.9 3-1.8 9.3-15.1 3.4-3ZM267.3 763.5l9 4.3 5 5.1 1.1 3-3.1 27 0 24-35.4 0 0.3-24 6.4-12 3.5-15 1.4-3 5.8-6.7 3-2.3ZM1242.3 801.4l7.9 1.5 2.2 3 0 21-15.2 0 0-21 1-3Z"/>
<path fill="#ff501a" fill-rule="evenodd" d="M366.3 394.5l15-2.1 27 6.1 2 2.4 3.5 9 3.1 6 10.6 12 4.2 9 6.6 11.3 1.1 3.7-0.4 3-0.7 1.8-3 3.7-6 3.1-6 2.2-9 2.4-6 0.7-27-3.1-3-1.4-6-4.8-6.5-7.6-17.3-27 1.1-24 2.2-3ZM1416.3 397.1l24 0 4.1 0.8 2.4 3 0.7 21-1 6-11.7 24-8.1 9-7.4 5.6-3 1.3-3-0.8-16-15.1-2.4-9-2.2-15 0.2-3 1.2-3 7.4-12 7.8-9 4-2.8ZM954.3 417.3l3 0.5 5.5 4.1 2.2 3-1 3-6.7 5.5-3 0.5-3-1.6-4.4-4.4-1-3 2-3ZM264.3 767.6l3-0.3 5 2.6 3.4 3 1.4 3-4 27 0 24-19.6 0 0.1-24 2.5-12 1.5-15 1.4-3Z"/>
<path fill="#e13000" fill-rule="evenodd" d="M372.3 400.8l6-2.4 3-0.2 7.9 2.7 4.1 3 12 11.3 3 3.7 3.4 6 0.9 3 2.6 21-0.2 3-5 3-4.7 0.6-22.1-0.6-1.9-0.3-3.7-2.7-14.2-24-1.2-3 1.1-6 3-8.9 3.2-6.1ZM1416.3 409.1l6 2.3 5.5 4.5 3.5 4.8 1.6 4.2-1.9 6-6.4 12-5.3 8.4-3 2.6-3-0.4-3.7-4.6-3.7-9-3.5-12 0.1-3 4.8-7.8 6-6.9ZM264.3 771.4l3-0.2 2.8 1.7 1.8 3-2.7 15-1.9 7.7-2.1 4.3-0.2 24-1.2 0-0.1-24-2-12-0.8-12 0.2-3Z"/>
<path fill="#b92305" fill-rule="evenodd" d="M381.3 418l3 1.9 4.6 5-0.7 3-0.9 1.2-3 2.9-3 1.3-3-2.6-2.5-5.8 2.5-5ZM1413.3 423.5l3-1.1 2.6 2.5-0.3 3-2.3 3.5-3-1.4-0.9-2.1-0.1-3Z"/><rect x="260.7" y="801.7" width="120.1" height="13.2" fill="#000"/><rect x="270.4" y="787.8" width="105.7" height="27.1" fill="#000"/><rect x="318.4" y="773.8" width="52.9" height="41.1" fill="#000"/><rect x="328.0" y="759.9" width="28.8" height="55.0" fill="#000"/><rect x="606.7" y="801.7" width="9.6" height="13.2" fill="#000"/><rect x="1303.4" y="801.7" width="62.8" height="13.2" fill="#000"/><rect x="1365.9" y="801.7" width="43.2" height="13.2" fill="#000"/><rect x="1308.2" y="787.8" width="9.6" height="27.1" fill="#000"/></g>
<rect x="222.3" y="277.9" width="1379.4" height="537.0" fill="none" stroke="#000" stroke-width="4"/>
<g stroke="#000" stroke-linecap="round" fill="none"><path d="M222.3 277.9v-32.2M222.3 814.9v32.2" stroke-width="4.0"/><path d="M337.6 277.9v-16.1M337.6 814.9v16.1" stroke-width="2.5"/><path d="M452.9 277.9v-32.2M452.9 814.9v32.2" stroke-width="4.0"/><path d="M568.3 277.9v-16.1M568.3 814.9v16.1" stroke-width="2.5"/><path d="M683.6 277.9v-32.2M683.6 814.9v32.2" stroke-width="4.0"/><path d="M798.9 277.9v-16.1M798.9 814.9v16.1" stroke-width="2.5"/><path d="M914.2 277.9v-32.2M914.2 814.9v32.2" stroke-width="4.0"/><path d="M1029.5 277.9v-16.1M1029.5 814.9v16.1" stroke-width="2.5"/><path d="M1144.9 277.9v-32.2M1144.9 814.9v32.2" stroke-width="4.0"/><path d="M1260.2 277.9v-16.1M1260.2 814.9v16.1" stroke-width="2.5"/><path d="M1375.5 277.9v-32.2M1375.5 814.9v32.2" stroke-width="4.0"/><path d="M1490.8 277.9v-16.1M1490.8 814.9v16.1" stroke-width="2.5"/><path d="M222.3 277.9h-32" stroke-width="4.4"/><path d="M222.3 289.0h-32" stroke-width="4.4"/><path d="M222.3 300.0h-32" stroke-width="4.4"/><path d="M222.3 316.7h-32" stroke-width="4.4"/><path d="M222.3 344.3h-32" stroke-width="4.4"/><path d="M222.3 372.0h-32" stroke-width="4.4"/><path d="M222.3 399.7h-32" stroke-width="4.4"/><path d="M222.3 427.4h-32" stroke-width="4.4"/><path d="M222.3 482.7h-32" stroke-width="4.4"/><path d="M222.3 538.1h-32" stroke-width="4.4"/><path d="M222.3 648.8h-32" stroke-width="4.4"/><path d="M222.3 731.9h-32" stroke-width="4.4"/><path d="M222.3 814.9h-32" stroke-width="4.4"/><path d="M1601.7 292.0h32" stroke-width="4.4"/><path d="M1601.7 318.3h32" stroke-width="4.4"/><path d="M1601.7 367.6h32" stroke-width="4.4"/><path d="M1601.7 457.2h32" stroke-width="4.4"/><path d="M1601.7 602.0h32" stroke-width="4.4"/></g>
<text transform="translate(166.5,291.1) scale(0.945,1)" font-size="37.5" font-weight="bold" text-anchor="end" >30</text>
<text transform="translate(166.5,302.2) scale(0.945,1)" font-size="37.5" font-weight="bold" text-anchor="end" >50</text>
<text transform="translate(166.5,313.2) scale(0.945,1)" font-size="37.5" font-weight="bold" text-anchor="end" >70</text>
<text transform="translate(166.5,329.9) scale(0.945,1)" font-size="37.5" font-weight="bold" text-anchor="end" >100</text>
<text transform="translate(166.5,357.5) scale(0.945,1)" font-size="37.5" font-weight="bold" text-anchor="end" >150</text>
<text transform="translate(166.5,385.2) scale(0.945,1)" font-size="37.5" font-weight="bold" text-anchor="end" >200</text>
<text transform="translate(166.5,412.9) scale(0.945,1)" font-size="37.5" font-weight="bold" text-anchor="end" >250</text>
<text transform="translate(166.5,440.6) scale(0.945,1)" font-size="37.5" font-weight="bold" text-anchor="end" >300</text>
<text transform="translate(166.5,495.9) scale(0.945,1)" font-size="37.5" font-weight="bold" text-anchor="end" >400</text>
<text transform="translate(166.5,551.3) scale(0.945,1)" font-size="37.5" font-weight="bold" text-anchor="end" >500</text>
<text transform="translate(166.5,662.0) scale(0.945,1)" font-size="37.5" font-weight="bold" text-anchor="end" >700</text>
<text transform="translate(166.5,745.1) scale(0.945,1)" font-size="37.5" font-weight="bold" text-anchor="end" >850</text>
<text transform="translate(166.5,828.1) scale(0.945,1)" font-size="37.5" font-weight="bold" text-anchor="end" >1000</text>
<text transform="translate(1657.0,305.2) scale(0.945,1)" font-size="37.5" font-weight="bold" text-anchor="start" >20</text>
<text transform="translate(1657.0,331.5) scale(0.945,1)" font-size="37.5" font-weight="bold" text-anchor="start" >16</text>
<text transform="translate(1657.0,380.8) scale(0.945,1)" font-size="37.5" font-weight="bold" text-anchor="start" >12</text>
<text transform="translate(1657.0,470.4) scale(0.945,1)" font-size="37.5" font-weight="bold" text-anchor="start" >8</text>
<text transform="translate(1657.0,615.2) scale(0.945,1)" font-size="37.5" font-weight="bold" text-anchor="start" >4</text>
<text transform="translate(222.3,898.8) scale(0.945,1)" font-size="37.5" font-weight="bold" text-anchor="middle" >0</text>
<text transform="translate(452.9,898.8) scale(0.945,1)" font-size="37.5" font-weight="bold" text-anchor="middle" >60E</text>
<text transform="translate(683.6,898.8) scale(0.945,1)" font-size="37.5" font-weight="bold" text-anchor="middle" >120E</text>
<text transform="translate(914.2,898.8) scale(0.945,1)" font-size="37.5" font-weight="bold" text-anchor="middle" >180</text>
<text transform="translate(1144.9,898.8) scale(0.945,1)" font-size="37.5" font-weight="bold" text-anchor="middle" >120W</text>
<text transform="translate(1375.5,898.8) scale(0.945,1)" font-size="37.5" font-weight="bold" text-anchor="middle" >60W</text>
<text transform="translate(45.3,544.5) rotate(-90) scale(0.94,1)" font-size="57.5" font-weight="bold" text-anchor="middle" >Pressure (mb)</text>
<text transform="translate(1777.0,546.5) rotate(-90) scale(0.953,1)" font-size="57.5" font-weight="bold" text-anchor="middle" >Height (km)</text>
<text transform="translate(910.2,930.0) scale(0.956,1)" font-size="32.7" font-weight="bold" text-anchor="middle" xml:space="preserve">MIN =  -0.32  MAX =   0.25</text>
<rect x="230.00" y="964.7" width="85.22" height="21.5" fill="#00008b" stroke="#000" stroke-width="2.2"/>
<rect x="315.23" y="964.7" width="85.22" height="21.5" fill="#001ebe" stroke="#000" stroke-width="2.2"/>
<rect x="400.45" y="964.7" width="85.22" height="21.5" fill="#0030e0" stroke="#000" stroke-width="2.2"/>
<rect x="485.67" y="964.7" width="85.22" height="21.5" fill="#1a50ff" stroke="#000" stroke-width="2.2"/>
<rect x="570.90" y="964.7" width="85.22" height="21.5" fill="#4678ff" stroke="#000" stroke-width="2.2"/>
<rect x="656.12" y="964.7" width="85.22" height="21.5" fill="#85a9ff" stroke="#000" stroke-width="2.2"/>
<rect x="741.35" y="964.7" width="85.22" height="21.5" fill="#b4cdfa" stroke="#000" stroke-width="2.2"/>
<rect x="826.57" y="964.7" width="85.22" height="21.5" fill="#d4e8fa" stroke="#000" stroke-width="2.2"/>
<rect x="911.80" y="964.7" width="85.22" height="21.5" fill="#ffead6" stroke="#000" stroke-width="2.2"/>
<rect x="997.02" y="964.7" width="85.22" height="21.5" fill="#ffcdb4" stroke="#000" stroke-width="2.2"/>
<rect x="1082.25" y="964.7" width="85.22" height="21.5" fill="#ffa985" stroke="#000" stroke-width="2.2"/>
<rect x="1167.47" y="964.7" width="85.22" height="21.5" fill="#ff7846" stroke="#000" stroke-width="2.2"/>
<rect x="1252.70" y="964.7" width="85.22" height="21.5" fill="#ff501a" stroke="#000" stroke-width="2.2"/>
<rect x="1337.92" y="964.7" width="85.22" height="21.5" fill="#e13000" stroke="#000" stroke-width="2.2"/>
<rect x="1423.15" y="964.7" width="85.22" height="21.5" fill="#b92305" stroke="#000" stroke-width="2.2"/>
<rect x="1508.38" y="964.7" width="85.22" height="21.5" fill="#8b0000" stroke="#000" stroke-width="2.2"/>
<text transform="translate(315.2,1024.6) scale(0.97,1)" font-size="33" font-weight="bold" text-anchor="middle" >-0.2</text>
<text transform="translate(400.4,1024.6) scale(0.97,1)" font-size="33" font-weight="bold" text-anchor="middle" >-0.17</text>
<text transform="translate(485.7,1024.6) scale(0.97,1)" font-size="33" font-weight="bold" text-anchor="middle" >-0.14</text>
<text transform="translate(570.9,1024.6) scale(0.97,1)" font-size="33" font-weight="bold" text-anchor="middle" >-0.11</text>
<text transform="translate(656.1,1024.6) scale(0.97,1)" font-size="33" font-weight="bold" text-anchor="middle" >-0.08</text>
<text transform="translate(741.3,1024.6) scale(0.97,1)" font-size="33" font-weight="bold" text-anchor="middle" >-0.05</text>
<text transform="translate(826.6,1024.6) scale(0.97,1)" font-size="33" font-weight="bold" text-anchor="middle" >-0.02</text>
<text transform="translate(911.8,1024.6) scale(0.97,1)" font-size="33" font-weight="bold" text-anchor="middle" >0</text>
<text transform="translate(997.0,1024.6) scale(0.97,1)" font-size="33" font-weight="bold" text-anchor="middle" >0.02</text>
<text transform="translate(1082.2,1024.6) scale(0.97,1)" font-size="33" font-weight="bold" text-anchor="middle" >0.05</text>
<text transform="translate(1167.5,1024.6) scale(0.97,1)" font-size="33" font-weight="bold" text-anchor="middle" >0.08</text>
<text transform="translate(1252.7,1024.6) scale(0.97,1)" font-size="33" font-weight="bold" text-anchor="middle" >0.11</text>
<text transform="translate(1337.9,1024.6) scale(0.97,1)" font-size="33" font-weight="bold" text-anchor="middle" >0.14</text>
<text transform="translate(1423.1,1024.6) scale(0.97,1)" font-size="33" font-weight="bold" text-anchor="middle" >0.17</text>
<text transform="translate(1508.4,1024.6) scale(0.97,1)" font-size="33" font-weight="bold" text-anchor="middle" >0.2</text>
</g>
</svg></body></html>
